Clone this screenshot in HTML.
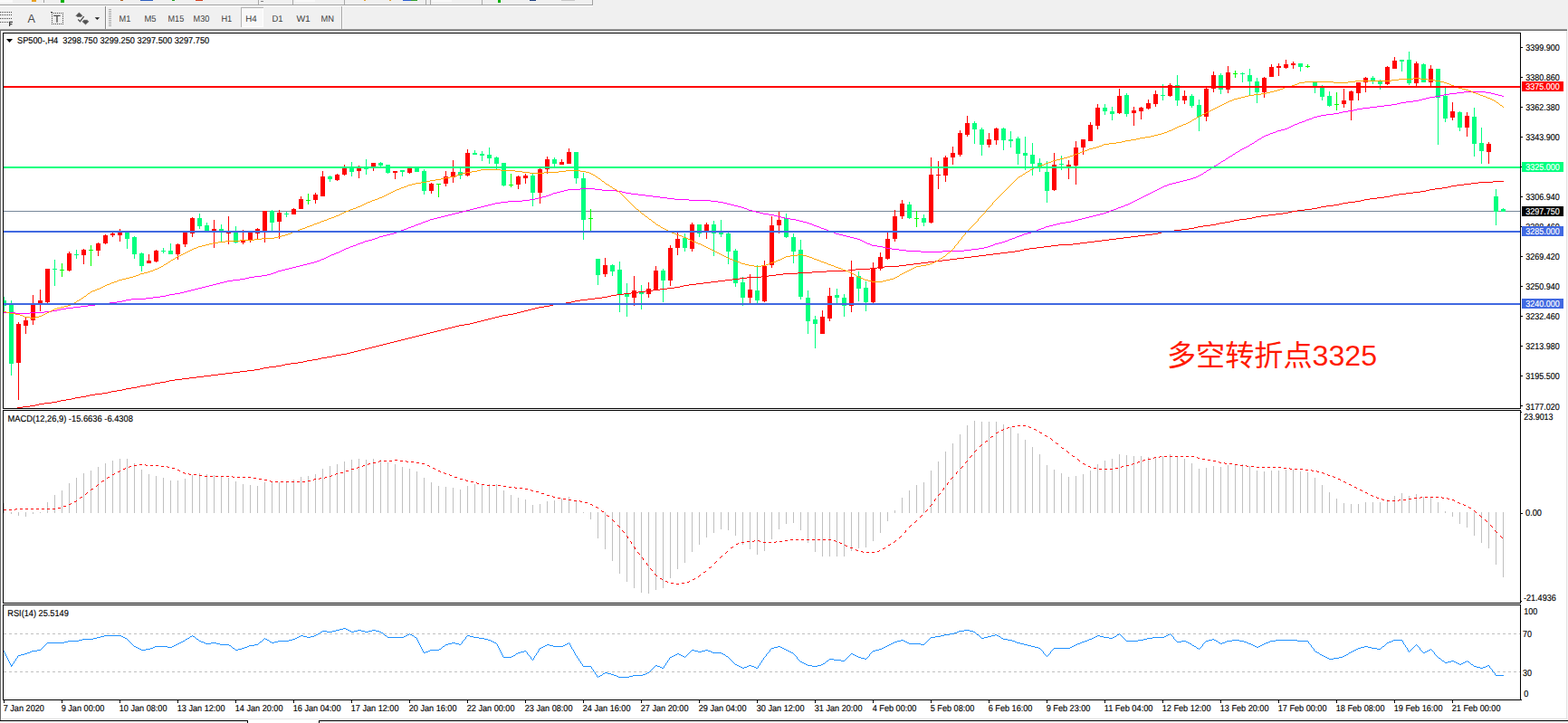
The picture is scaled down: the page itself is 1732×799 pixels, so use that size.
<!DOCTYPE html><html><head><meta charset="utf-8"><title>SP500-,H4</title>
<style>html,body{margin:0;padding:0;background:#f0f0f0;overflow:hidden}svg{display:block}text{font-family:"Liberation Sans",sans-serif}</style></head><body>
<svg width="1732" height="799" viewBox="0 0 1732 799" shape-rendering="crispEdges">
<rect x="0" y="0" width="1732" height="799" fill="#f0f0f0"/>
<g>
<rect x="0" y="5" width="655" height="1" fill="#a0a0a0"/>
<rect x="654" y="0" width="1" height="6" fill="#a0a0a0"/>
<rect x="48" y="0" width="1" height="3" fill="#a0a0a0"/>
<rect x="285" y="0" width="1" height="5" fill="#a8a8a8"/>
<rect x="323" y="0" width="1" height="5" fill="#a8a8a8"/>
<rect x="380" y="0" width="1" height="5" fill="#a8a8a8"/>
<rect x="470" y="0" width="1" height="5" fill="#a8a8a8"/>
<rect x="475" y="0" width="1" height="5" fill="#a8a8a8"/>
<rect x="532" y="0" width="1" height="5" fill="#a8a8a8"/>
<rect x="326" y="0" width="22" height="2" fill="#f8f8f8"/>
<rect x="477" y="0" width="22" height="2" fill="#f8f8f8"/>
<rect x="288" y="1" width="3" height="1" fill="#808080"/>
<rect x="402" y="0" width="2" height="1" fill="#e0a030"/>
<rect x="430" y="0" width="2" height="1" fill="#e0a030"/>
<rect x="445" y="0" width="9" height="1" fill="#3060d0"/>
<rect x="454" y="0" width="7" height="1" fill="#30a030"/>
<rect x="550" y="0" width="3" height="3" fill="#00b000"/>
<rect x="585" y="0" width="7" height="1" fill="#204080"/>
<rect x="620" y="0" width="15" height="1" fill="#c8c8c8"/>
<rect x="0" y="0" width="14" height="3" fill="#fafafa"/>
<rect x="35" y="0" width="5" height="2" fill="#e8a020"/>
<rect x="67" y="0" width="4" height="3" fill="#00b000"/>
<rect x="133" y="0" width="3" height="1" fill="#b06020"/>
<rect x="155" y="0" width="14" height="1" fill="#3060c0"/>
<rect x="190" y="0" width="3" height="1" fill="#20a020"/>
<rect x="216" y="0" width="8" height="1" fill="#d04020"/>
<rect x="0" y="6" width="655" height="1" fill="#ffffff"/>
<path d="M0 13.5H14" stroke="#484848" stroke-width="1" stroke-dasharray="1 1" fill="none"/>
<path d="M0 16.5H14" stroke="#484848" stroke-width="1" stroke-dasharray="1 1" fill="none"/>
<path d="M0 20.5H14" stroke="#484848" stroke-width="1" stroke-dasharray="1 1" fill="none"/>
<path d="M0 24.5H10" stroke="#484848" stroke-width="1" stroke-dasharray="1 1" fill="none"/>
<path d="M10.6 29v-4.6h3.4M10.6 26.6h2.8" stroke="#3c3c3c" stroke-width="1.2" fill="none" shape-rendering="auto"/>
<text x="30.4" y="25" font-size="12.6" fill="#484848" shape-rendering="auto" textLength="8.4" lengthAdjust="spacingAndGlyphs">A</text>
<path d="M57 14h1v1h-1zM57 26h1v1h-1zM59 14h1v1h-1zM59 26h1v1h-1zM57 16h1v1h-1zM69 16h1v1h-1zM61 14h1v1h-1zM61 26h1v1h-1zM57 18h1v1h-1zM69 18h1v1h-1zM63 14h1v1h-1zM63 26h1v1h-1zM57 20h1v1h-1zM69 20h1v1h-1zM65 14h1v1h-1zM65 26h1v1h-1zM57 22h1v1h-1zM69 22h1v1h-1zM67 14h1v1h-1zM67 26h1v1h-1zM57 24h1v1h-1zM69 24h1v1h-1zM69 14h1v1h-1zM69 26h1v1h-1z" fill="#484848"/>
<rect x="56" y="13" width="2" height="1" fill="#484848"/>
<path d="M59.2 17.4h7.4M63 17.4v7.4" stroke="#505050" stroke-width="1.4" fill="none" shape-rendering="auto"/>
<path d="M87.4 13.9l3.7 3.6h-1.3v1h-4.6v-1h-1.4z M94.5 27.1l-3.7-3.5h1.5v-1.3h4.3v1.3h1.5z" fill="#505050" stroke="#505050" stroke-width="0.5" stroke-linejoin="round" shape-rendering="auto"/>
<path d="M86.3 21.5l2.1 2.2l4.3-5.6" stroke="#505050" stroke-width="1.3" fill="none" shape-rendering="auto"/>
<path d="M104.7 19.2h5.4l-2.7 2.8z" fill="#1e1e1e" shape-rendering="auto"/>
<rect x="116" y="7" width="1" height="26" fill="#868686"/>
<rect x="117" y="7" width="1" height="25" fill="#fcfcfc"/>
<rect x="120" y="10" width="3" height="1" fill="#a8a8a8"/>
<rect x="120" y="12" width="3" height="1" fill="#a8a8a8"/>
<rect x="120" y="14" width="3" height="1" fill="#a8a8a8"/>
<rect x="120" y="16" width="3" height="1" fill="#a8a8a8"/>
<rect x="120" y="18" width="3" height="1" fill="#a8a8a8"/>
<rect x="120" y="20" width="3" height="1" fill="#a8a8a8"/>
<rect x="120" y="22" width="3" height="1" fill="#a8a8a8"/>
<rect x="120" y="24" width="3" height="1" fill="#a8a8a8"/>
<rect x="120" y="26" width="3" height="1" fill="#a8a8a8"/>
<rect x="120" y="28" width="3" height="1" fill="#a8a8a8"/>
<rect x="266" y="8" width="25" height="22" fill="#f8f8f8"/>
<rect x="266" y="8" width="25" height="1" fill="#b4b4b4"/><rect x="266" y="8" width="1" height="22" fill="#b4b4b4"/>
<rect x="290" y="9" width="1" height="21" fill="#fff"/><rect x="267" y="29" width="24" height="1" fill="#fff"/>
<text x="131.5" y="23.6" font-size="10" text-rendering="geometricPrecision" fill="#3c3c3c" textLength="12.8" lengthAdjust="spacingAndGlyphs" shape-rendering="auto">M1</text>
<text x="159.4" y="23.6" font-size="10" text-rendering="geometricPrecision" fill="#3c3c3c" textLength="13" lengthAdjust="spacingAndGlyphs" shape-rendering="auto">M5</text>
<text x="185.5" y="23.6" font-size="10" text-rendering="geometricPrecision" fill="#3c3c3c" textLength="17.7" lengthAdjust="spacingAndGlyphs" shape-rendering="auto">M15</text>
<text x="213.6" y="23.6" font-size="10" text-rendering="geometricPrecision" fill="#3c3c3c" textLength="17.7" lengthAdjust="spacingAndGlyphs" shape-rendering="auto">M30</text>
<text x="244.4" y="23.6" font-size="10" text-rendering="geometricPrecision" fill="#3c3c3c" textLength="11.8" lengthAdjust="spacingAndGlyphs" shape-rendering="auto">H1</text>
<text x="271.3" y="23.6" font-size="10" text-rendering="geometricPrecision" fill="#3c3c3c" textLength="12.4" lengthAdjust="spacingAndGlyphs" shape-rendering="auto">H4</text>
<text x="300.4" y="23.6" font-size="10" text-rendering="geometricPrecision" fill="#3c3c3c" textLength="12.1" lengthAdjust="spacingAndGlyphs" shape-rendering="auto">D1</text>
<text x="327.4" y="23.6" font-size="10" text-rendering="geometricPrecision" fill="#3c3c3c" textLength="15.4" lengthAdjust="spacingAndGlyphs" shape-rendering="auto">W1</text>
<text x="354.5" y="23.6" font-size="10" text-rendering="geometricPrecision" fill="#3c3c3c" textLength="14.5" lengthAdjust="spacingAndGlyphs" shape-rendering="auto">MN</text>
<rect x="377" y="7" width="1" height="25" fill="#a8a8a8"/>
<rect x="378" y="7" width="1" height="25" fill="#fcfcfc"/>
</g>
<rect x="1" y="34" width="1729" height="762" fill="#ffffff"/>
<rect x="0" y="32" width="1731" height="1" fill="#a0a0a0"/>
<rect x="0" y="33" width="1731" height="1" fill="#696969"/>
<rect x="0" y="34" width="1" height="762" fill="#696969"/>
<rect x="1730" y="34" width="1" height="762" fill="#e3e3e3"/>
<rect x="1731" y="32" width="1" height="765" fill="#f6f6f6"/>
<rect x="2" y="794" width="1728" height="1" fill="#e3e3e3"/>
<rect x="0" y="796" width="273" height="1" fill="#000"/>
<rect x="273" y="796" width="1" height="3" fill="#000"/>
<rect x="352" y="796" width="1" height="3" fill="#000"/>
<rect x="352" y="796" width="1380" height="1" fill="#000"/>
<rect x="0" y="797" width="273" height="2" fill="#f0f0f0"/>
<rect x="274" y="795" width="78" height="4" fill="#ffffff"/>
<rect x="353" y="797" width="1379" height="2" fill="#f0f0f0"/>
<rect x="3" y="36" width="1677" height="1" fill="#000"/>
<rect x="3" y="451" width="1677" height="1" fill="#000"/>
<rect x="3" y="36" width="1" height="416" fill="#000"/>
<rect x="1679" y="36" width="1" height="416" fill="#000"/>
<rect x="3" y="453" width="1677" height="1" fill="#000"/>
<rect x="3" y="666" width="1677" height="1" fill="#000"/>
<rect x="3" y="453" width="1" height="214" fill="#000"/>
<rect x="1679" y="453" width="1" height="214" fill="#000"/>
<rect x="3" y="668" width="1677" height="1" fill="#000"/>
<rect x="3" y="773" width="1677" height="1" fill="#000"/>
<rect x="3" y="668" width="1" height="106" fill="#000"/>
<rect x="1679" y="668" width="1" height="106" fill="#000"/>
<rect x="1679" y="773" width="2" height="1" fill="#000"/>
<defs><clipPath id="cm"><rect x="4" y="37" width="1675" height="414"/></clipPath><clipPath id="c2"><rect x="4" y="454" width="1675" height="212"/></clipPath><clipPath id="c3"><rect x="4" y="669" width="1675" height="104"/></clipPath></defs>
<g clip-path="url(#cm)">
<rect x="4" y="233" width="1675" height="1" fill="#778899"/>
<path fill="#ff0000" d="M20 356h1v86h-1zM28 350h1v19h-1zM36 326h1v33h-1zM44 320h1v24h-1zM52 297h1v38h-1zM76 278h1v22h-1zM92 275h1v17h-1zM108 268h1v15h-1zM116 259h1v11h-1zM124 257h1v5h-1zM132 253h1v14h-1zM164 281h1v10h-1zM172 276h1v14h-1zM196 269h1v18h-1zM204 257h1v16h-1zM212 240h1v22h-1zM236 243h1v31h-1zM252 239h1v31h-1zM268 254h1v16h-1zM276 257h1v11h-1zM284 252h1v12h-1zM292 233h1v35h-1zM308 232h1v32h-1zM324 230h1v7h-1zM332 217h1v14h-1zM348 213h1v12h-1zM356 189h1v28h-1zM372 192h1v8h-1zM380 182h1v12h-1zM396 183h1v14h-1zM412 180h1v9h-1zM436 189h1v9h-1zM452 186h1v6h-1zM476 202h1v12h-1zM492 189h1v17h-1zM500 177h1v25h-1zM516 165h1v30h-1zM572 194h1v15h-1zM580 192h1v11h-1zM596 186h1v39h-1zM604 173h1v19h-1zM620 176h1v6h-1zM628 164h1v17h-1zM668 285h1v21h-1zM700 305h1v33h-1zM716 312h1v17h-1zM724 294h1v27h-1zM740 271h1v45h-1zM748 257h1v25h-1zM764 246h1v32h-1zM780 246h1v18h-1zM828 303h1v32h-1zM844 288h1v46h-1zM852 239h1v57h-1zM860 234h1v24h-1zM908 343h1v26h-1zM916 318h1v37h-1zM940 288h1v57h-1zM964 290h1v45h-1zM972 279h1v20h-1zM980 257h1v30h-1zM988 232h1v35h-1zM996 221h1v21h-1zM1028 174h1v73h-1zM1036 178h1v31h-1zM1044 172h1v29h-1zM1052 162h1v20h-1zM1060 144h1v29h-1zM1068 128h1v23h-1zM1092 147h1v16h-1zM1100 141h1v19h-1zM1164 169h1v42h-1zM1180 177h1v21h-1zM1188 156h1v48h-1zM1196 154h1v17h-1zM1204 135h1v21h-1zM1212 115h1v28h-1zM1236 98h1v28h-1zM1252 118h1v21h-1zM1260 118h1v14h-1zM1268 110h1v11h-1zM1276 100h1v18h-1zM1292 92h1v15h-1zM1308 100h1v15h-1zM1332 97h1v37h-1zM1340 79h1v23h-1zM1356 73h1v30h-1zM1396 85h1v23h-1zM1404 71h1v14h-1zM1412 70h1v14h-1zM1420 66h1v10h-1zM1428 68h1v8h-1zM1484 98h1v21h-1zM1492 100h1v33h-1zM1500 91h1v20h-1zM1508 85h1v17h-1zM1532 73h1v21h-1zM1540 63h1v13h-1zM1564 68h1v27h-1zM1580 72h1v23h-1zM1604 113h1v20h-1zM1620 124h1v27h-1zM1644 157h1v24h-1zM18 358h5v43h-5zM26 354h5v6h-5zM34 336h5v18h-5zM42 332h5v4h-5zM50 297h5v37h-5zM74 280h5v19h-5zM90 276h5v6h-5zM106 269h5v8h-5zM114 260h5v9h-5zM122 258h5v2h-5zM130 256h5v4h-5zM162 288h5v3h-5zM170 277h5v12h-5zM194 270h5v11h-5zM202 257h5v13h-5zM210 241h5v17h-5zM234 253h5v2h-5zM250 257h5v1h-5zM266 266h5v2h-5zM274 257h5v8h-5zM282 253h5v5h-5zM290 233h5v22h-5zM306 235h5v10h-5zM322 231h5v6h-5zM330 220h5v11h-5zM346 215h5v6h-5zM354 195h5v22h-5zM370 193h5v6h-5zM378 186h5v7h-5zM394 186h5v3h-5zM410 180h5v4h-5zM434 189h5v2h-5zM450 186h5v5h-5zM474 203h5v8h-5zM490 195h5v8h-5zM498 190h5v6h-5zM514 169h5v25h-5zM570 195h5v9h-5zM578 194h5v3h-5zM594 187h5v26h-5zM602 176h5v11h-5zM618 179h5v3h-5zM626 168h5v13h-5zM666 293h5v10h-5zM698 321h5v8h-5zM714 319h5v6h-5zM722 299h5v22h-5zM738 274h5v36h-5zM746 264h5v10h-5zM762 248h5v27h-5zM778 248h5v9h-5zM826 320h5v9h-5zM842 294h5v39h-5zM850 249h5v44h-5zM858 243h5v6h-5zM906 350h5v19h-5zM914 327h5v25h-5zM938 306h5v32h-5zM962 296h5v38h-5zM970 284h5v13h-5zM978 264h5v22h-5zM986 239h5v25h-5zM994 225h5v14h-5zM1026 193h5v53h-5zM1034 193h5v1h-5zM1042 174h5v20h-5zM1050 169h5v5h-5zM1058 147h5v24h-5zM1066 136h5v13h-5zM1090 154h5v6h-5zM1098 142h5v13h-5zM1162 182h5v28h-5zM1178 182h5v2h-5zM1186 163h5v20h-5zM1194 154h5v9h-5zM1202 138h5v18h-5zM1210 119h5v20h-5zM1234 106h5v19h-5zM1250 122h5v3h-5zM1258 119h5v4h-5zM1266 114h5v6h-5zM1274 104h5v11h-5zM1290 94h5v12h-5zM1306 106h5v5h-5zM1330 98h5v31h-5zM1338 83h5v15h-5zM1354 80h5v19h-5zM1394 86h5v16h-5zM1402 74h5v11h-5zM1410 73h5v2h-5zM1418 71h5v4h-5zM1426 70h5v2h-5zM1482 111h5v4h-5zM1490 101h5v10h-5zM1498 91h5v12h-5zM1506 86h5v5h-5zM1530 74h5v19h-5zM1538 67h5v9h-5zM1562 70h5v22h-5zM1578 76h5v15h-5zM1602 123h5v7h-5zM1618 128h5v13h-5zM1642 159h5v9h-5z"/>
<path fill="#00ff7f" d="M4 328h1v18h-1zM12 332h1v83h-1zM60 287h1v29h-1zM84 276h1v10h-1zM140 256h1v19h-1zM148 261h1v25h-1zM156 279h1v21h-1zM180 274h1v6h-1zM188 269h1v12h-1zM220 236h1v17h-1zM228 246h1v9h-1zM244 248h1v19h-1zM260 250h1v19h-1zM300 232h1v23h-1zM316 234h1v6h-1zM364 194h1v7h-1zM388 179h1v16h-1zM404 176h1v17h-1zM420 179h1v5h-1zM428 182h1v10h-1zM444 188h1v7h-1zM460 186h1v4h-1zM468 187h1v28h-1zM508 186h1v12h-1zM524 166h1v5h-1zM532 167h1v11h-1zM540 163h1v18h-1zM548 173h1v14h-1zM556 180h1v26h-1zM588 192h1v36h-1zM612 174h1v10h-1zM636 168h1v35h-1zM644 191h1v74h-1zM660 286h1v29h-1zM676 292h1v13h-1zM684 289h1v56h-1zM692 313h1v37h-1zM708 315h1v27h-1zM732 297h1v37h-1zM756 258h1v20h-1zM772 248h1v14h-1zM788 244h1v39h-1zM796 243h1v19h-1zM804 257h1v35h-1zM812 275h1v42h-1zM820 306h1v32h-1zM836 293h1v42h-1zM868 236h1v27h-1zM876 258h1v33h-1zM884 265h1v66h-1zM892 321h1v48h-1zM900 349h1v36h-1zM924 319h1v16h-1zM932 325h1v25h-1zM948 300h1v33h-1zM956 311h1v33h-1zM1004 223h1v19h-1zM1020 237h1v13h-1zM1076 134h1v25h-1zM1084 141h1v31h-1zM1108 141h1v25h-1zM1116 145h1v18h-1zM1124 151h1v31h-1zM1132 151h1v37h-1zM1140 158h1v36h-1zM1148 175h1v15h-1zM1156 178h1v46h-1zM1172 172h1v16h-1zM1220 115h1v12h-1zM1228 118h1v15h-1zM1244 103h1v26h-1zM1284 93h1v18h-1zM1300 83h1v34h-1zM1316 104h1v15h-1zM1324 110h1v35h-1zM1348 81h1v23h-1zM1372 80h1v11h-1zM1380 76h1v29h-1zM1388 86h1v28h-1zM1436 70h1v9h-1zM1452 90h1v13h-1zM1460 94h1v17h-1zM1468 101h1v17h-1zM1516 84h1v9h-1zM1524 88h1v11h-1zM1548 66h1v13h-1zM1556 57h1v37h-1zM1572 70h1v21h-1zM1588 76h1v84h-1zM1596 97h1v38h-1zM1612 123h1v22h-1zM1628 119h1v54h-1zM1636 141h1v40h-1zM1652 209h1v40h-1zM1660 230h1v4h-1zM2 332h5v6h-5zM10 336h5v66h-5zM58 297h5v1h-5zM82 281h5v1h-5zM138 256h5v8h-5zM146 262h5v19h-5zM154 280h5v14h-5zM178 277h5v1h-5zM186 277h5v4h-5zM218 241h5v9h-5zM226 249h5v6h-5zM242 253h5v4h-5zM258 257h5v11h-5zM298 233h5v13h-5zM314 236h5v1h-5zM362 195h5v3h-5zM386 185h5v5h-5zM402 185h5v2h-5zM418 180h5v3h-5zM426 182h5v9h-5zM442 188h5v2h-5zM458 186h5v4h-5zM466 189h5v22h-5zM506 190h5v4h-5zM522 169h5v2h-5zM530 170h5v2h-5zM538 171h5v4h-5zM546 174h5v7h-5zM554 180h5v25h-5zM586 194h5v19h-5zM610 176h5v5h-5zM634 168h5v29h-5zM642 197h5v46h-5zM658 286h5v18h-5zM674 293h5v7h-5zM682 298h5v28h-5zM690 325h5v3h-5zM706 322h5v3h-5zM730 299h5v11h-5zM754 263h5v11h-5zM770 248h5v10h-5zM786 248h5v10h-5zM794 257h5v2h-5zM802 258h5v20h-5zM810 277h5v36h-5zM818 312h5v17h-5zM834 321h5v11h-5zM866 241h5v21h-5zM874 262h5v16h-5zM882 276h5v52h-5zM890 329h5v26h-5zM898 353h5v5h-5zM922 326h5v3h-5zM930 329h5v9h-5zM946 305h5v14h-5zM954 318h5v16h-5zM1002 226h5v15h-5zM1018 241h5v5h-5zM1074 136h5v7h-5zM1082 143h5v17h-5zM1106 142h5v13h-5zM1114 154h5v2h-5zM1122 153h5v17h-5zM1130 169h5v3h-5zM1138 171h5v10h-5zM1146 180h5v4h-5zM1154 190h5v21h-5zM1170 181h5v1h-5zM1218 119h5v4h-5zM1226 123h5v3h-5zM1242 105h5v21h-5zM1282 105h5v1h-5zM1298 94h5v17h-5zM1314 106h5v11h-5zM1322 116h5v13h-5zM1346 83h5v16h-5zM1370 81h5v1h-5zM1378 83h5v7h-5zM1386 90h5v12h-5zM1434 70h5v4h-5zM1450 90h5v6h-5zM1458 97h5v10h-5zM1466 106h5v11h-5zM1514 86h5v3h-5zM1522 90h5v3h-5zM1546 66h5v2h-5zM1554 66h5v26h-5zM1570 71h5v20h-5zM1586 76h5v32h-5zM1594 106h5v25h-5zM1610 124h5v17h-5zM1626 129h5v30h-5zM1634 158h5v9h-5zM1650 217h5v17h-5zM1658 231h5v3h-5z"/>
<path fill="#00ff00" d="M68 291h1v15h-1zM100 271h1v23h-1zM340 214h1v12h-1zM484 203h1v15h-1zM564 192h1v15h-1zM652 231h1v24h-1zM1012 233h1v18h-1zM1364 78h1v8h-1zM1444 71h1v4h-1zM1476 102h1v20h-1zM66 298h5v1h-5zM98 276h5v1h-5zM338 221h5v1h-5zM482 203h5v1h-5zM562 204h5v1h-5zM650 241h5v1h-5zM1010 241h5v1h-5zM1362 81h5v1h-5zM1442 73h5v1h-5zM1474 115h5v1h-5z"/>
<path d="M1649 200h12v1h-12zM1633 201h16v1h-16zM1625 202h8v1h-8zM1617 203h8v1h-8zM1609 204h8v1h-8zM1603 205h6v1h-6zM1599 206h4v1h-4zM1593 207h6v1h-6zM1585 208h8v1h-8zM1579 209h6v1h-6zM1575 210h4v1h-4zM1569 211h6v1h-6zM1561 212h8v1h-8zM1553 213h8v1h-8zM1545 214h8v1h-8zM1539 215h6v1h-6zM1535 216h4v1h-4zM1529 217h6v1h-6zM1521 218h8v1h-8zM1513 219h8v1h-8zM1507 220h6v1h-6zM1503 221h4v1h-4zM1497 222h6v1h-6zM1489 223h8v1h-8zM1483 224h6v1h-6zM1479 225h4v1h-4zM1473 226h6v1h-6zM1465 227h8v1h-8zM1459 228h6v1h-6zM1455 229h4v1h-4zM1449 230h6v1h-6zM1441 231h8v1h-8zM1433 232h8v1h-8zM1427 233h6v1h-6zM1423 234h4v1h-4zM1417 235h6v1h-6zM1409 236h8v1h-8zM1401 237h8v1h-8zM1393 238h8v1h-8zM1387 239h6v1h-6zM1383 240h4v1h-4zM1377 241h6v1h-6zM1369 242h8v1h-8zM1363 243h6v1h-6zM1359 244h4v1h-4zM1353 245h6v1h-6zM1347 246h6v1h-6zM1343 247h4v1h-4zM1337 248h6v1h-6zM1329 249h8v1h-8zM1323 250h6v1h-6zM1319 251h4v1h-4zM1313 252h6v1h-6zM1305 253h8v1h-8zM1297 254h8v1h-8zM1289 255h8v1h-8zM1283 256h6v1h-6zM1279 257h4v1h-4zM1273 258h6v1h-6zM1265 259h8v1h-8zM1257 260h8v1h-8zM1249 261h8v1h-8zM1241 262h8v1h-8zM1233 263h8v1h-8zM1225 264h8v1h-8zM1217 265h8v1h-8zM1209 266h8v1h-8zM1201 267h8v1h-8zM1193 268h8v1h-8zM1185 269h8v1h-8zM1169 270h16v1h-16zM1161 271h8v1h-8zM1153 272h8v1h-8zM1145 273h8v1h-8zM1137 274h8v1h-8zM1131 275h6v1h-6zM1127 276h4v1h-4zM1121 277h6v1h-6zM1113 278h8v1h-8zM1105 279h8v1h-8zM1097 280h8v1h-8zM1089 281h8v1h-8zM1081 282h8v1h-8zM1073 283h8v1h-8zM1065 284h8v1h-8zM1057 285h8v1h-8zM1049 286h8v1h-8zM1041 287h8v1h-8zM1033 288h8v1h-8zM1025 289h8v1h-8zM1017 290h8v1h-8zM1009 291h8v1h-8zM1001 292h8v1h-8zM993 293h8v1h-8zM977 294h16v1h-16zM969 295h8v1h-8zM961 296h8v1h-8zM945 297h16v1h-16zM937 298h8v1h-8zM913 299h24v1h-24zM897 300h16v1h-16zM881 301h16v1h-16zM865 302h16v1h-16zM857 303h8v1h-8zM849 304h8v1h-8zM841 305h8v1h-8zM825 306h16v1h-16zM817 307h8v1h-8zM809 308h8v1h-8zM801 309h8v1h-8zM793 310h8v1h-8zM785 311h8v1h-8zM777 312h8v1h-8zM769 313h8v1h-8zM761 314h8v1h-8zM755 315h6v1h-6zM751 316h4v1h-4zM745 317h6v1h-6zM737 318h8v1h-8zM729 319h8v1h-8zM721 320h8v1h-8zM713 321h8v1h-8zM705 322h8v1h-8zM697 323h8v1h-8zM689 324h8v1h-8zM681 325h8v1h-8zM675 326h6v1h-6zM671 327h4v1h-4zM665 328h6v1h-6zM657 329h8v1h-8zM649 330h8v1h-8zM641 331h8v1h-8zM635 332h6v1h-6zM631 333h4v1h-4zM625 334h6v1h-6zM617 335h8v1h-8zM611 336h6v1h-6zM607 337h4v1h-4zM601 338h6v1h-6zM595 339h6v1h-6zM591 340h4v1h-4zM587 341h4v1h-4zM583 342h4v1h-4zM579 343h4v1h-4zM575 344h4v1h-4zM571 345h4v1h-4zM567 346h4v1h-4zM561 347h6v1h-6zM555 348h6v1h-6zM551 349h4v1h-4zM547 350h4v1h-4zM543 351h4v1h-4zM539 352h4v1h-4zM535 353h4v1h-4zM531 354h4v1h-4zM527 355h4v1h-4zM523 356h4v1h-4zM519 357h4v1h-4zM513 358h6v1h-6zM507 359h6v1h-6zM503 360h4v1h-4zM499 361h4v1h-4zM495 362h4v1h-4zM491 363h4v1h-4zM487 364h4v1h-4zM483 365h4v1h-4zM479 366h4v1h-4zM475 367h4v1h-4zM471 368h4v1h-4zM467 369h4v1h-4zM463 370h4v1h-4zM459 371h4v1h-4zM455 372h4v1h-4zM451 373h4v1h-4zM447 374h4v1h-4zM443 375h4v1h-4zM439 376h4v1h-4zM435 377h4v1h-4zM431 378h4v1h-4zM427 379h4v1h-4zM423 380h4v1h-4zM419 381h4v1h-4zM415 382h4v1h-4zM411 383h4v1h-4zM407 384h4v1h-4zM403 385h4v1h-4zM399 386h4v1h-4zM395 387h4v1h-4zM391 388h4v1h-4zM387 389h4v1h-4zM383 390h4v1h-4zM377 391h6v1h-6zM371 392h6v1h-6zM367 393h4v1h-4zM361 394h6v1h-6zM355 395h6v1h-6zM351 396h4v1h-4zM345 397h6v1h-6zM339 398h6v1h-6zM335 399h4v1h-4zM329 400h6v1h-6zM321 401h8v1h-8zM315 402h6v1h-6zM311 403h4v1h-4zM305 404h6v1h-6zM297 405h8v1h-8zM291 406h6v1h-6zM287 407h4v1h-4zM281 408h6v1h-6zM273 409h8v1h-8zM265 410h8v1h-8zM257 411h8v1h-8zM249 412h8v1h-8zM241 413h8v1h-8zM233 414h8v1h-8zM225 415h8v1h-8zM217 416h8v1h-8zM209 417h8v1h-8zM201 418h8v1h-8zM193 419h8v1h-8zM187 420h6v1h-6zM183 421h4v1h-4zM177 422h6v1h-6zM171 423h6v1h-6zM167 424h4v1h-4zM161 425h6v1h-6zM155 426h6v1h-6zM151 427h4v1h-4zM145 428h6v1h-6zM139 429h6v1h-6zM135 430h4v1h-4zM129 431h6v1h-6zM123 432h6v1h-6zM119 433h4v1h-4zM113 434h6v1h-6zM105 435h8v1h-8zM99 436h6v1h-6zM95 437h4v1h-4zM89 438h6v1h-6zM83 439h6v1h-6zM79 440h4v1h-4zM73 441h6v1h-6zM67 442h6v1h-6zM63 443h4v1h-4zM57 444h6v1h-6zM49 445h8v1h-8zM43 446h6v1h-6zM39 447h4v1h-4zM33 448h6v1h-6zM25 449h8v1h-8zM19 450h6v1h-6zM15 451h4v1h-4zM9 452h6v1h-6zM4 453h5v1h-5z" fill="#ff0000"/>
<path d="M1617 101h24v1h-24zM1609 102h8v1h-8zM1641 102h6v1h-6zM1601 103h8v1h-8zM1647 103h4v1h-4zM1595 104h6v1h-6zM1651 104h4v1h-4zM1591 105h4v1h-4zM1655 105h4v1h-4zM1585 106h6v1h-6zM1659 106h2v1h-2zM1579 107h6v1h-6zM1575 108h4v1h-4zM1571 109h4v1h-4zM1567 110h4v1h-4zM1561 111h6v1h-6zM1553 112h8v1h-8zM1547 113h6v1h-6zM1543 114h4v1h-4zM1537 115h6v1h-6zM1529 116h8v1h-8zM1521 117h8v1h-8zM1513 118h8v1h-8zM1505 119h8v1h-8zM1499 120h6v1h-6zM1495 121h4v1h-4zM1489 122h6v1h-6zM1483 123h6v1h-6zM1479 124h4v1h-4zM1473 125h6v1h-6zM1465 126h8v1h-8zM1459 127h6v1h-6zM1455 128h4v1h-4zM1451 129h4v1h-4zM1449 130h2v1h-2zM1446 131h3v1h-3zM1443 132h3v1h-3zM1441 133h2v1h-2zM1438 134h3v1h-3zM1435 135h3v1h-3zM1433 136h2v1h-2zM1430 137h3v1h-3zM1428 138h2v1h-2zM1426 139h2v1h-2zM1424 140h2v1h-2zM1422 141h2v1h-2zM1419 142h3v1h-3zM1415 143h4v1h-4zM1411 144h4v1h-4zM1409 145h2v1h-2zM1406 146h3v1h-3zM1403 147h3v1h-3zM1401 148h2v1h-2zM1398 149h3v1h-3zM1396 150h2v1h-2zM1394 151h2v1h-2zM1393 152h1v1h-1zM1391 153h2v1h-2zM1389 154h2v1h-2zM1388 155h1v1h-1zM1386 156h2v1h-2zM1385 157h1v1h-1zM1383 158h2v1h-2zM1381 159h2v1h-2zM1380 160h1v1h-1zM1378 161h2v1h-2zM1376 162h2v1h-2zM1374 163h2v1h-2zM1372 164h2v1h-2zM1370 165h2v1h-2zM1369 166h1v1h-1zM1367 167h2v1h-2zM1365 168h2v1h-2zM1364 169h1v1h-1zM1362 170h2v1h-2zM1361 171h1v1h-1zM1359 172h2v1h-2zM1357 173h2v1h-2zM1356 174h1v1h-1zM1354 175h2v1h-2zM1353 176h1v1h-1zM1351 177h2v1h-2zM1349 178h2v1h-2zM1348 179h1v1h-1zM1346 180h2v1h-2zM1345 181h1v1h-1zM1343 182h2v1h-2zM1341 183h2v1h-2zM1340 184h1v1h-1zM1338 185h2v1h-2zM1337 186h1v1h-1zM1335 187h2v1h-2zM1333 188h2v1h-2zM1332 189h1v1h-1zM1330 190h2v1h-2zM1329 191h1v1h-1zM1327 192h2v1h-2zM1325 193h2v1h-2zM1323 194h2v1h-2zM1321 195h2v1h-2zM1318 196h3v1h-3zM1315 197h3v1h-3zM1311 198h4v1h-4zM1307 199h4v1h-4zM1303 200h4v1h-4zM1299 201h4v1h-4zM1295 202h4v1h-4zM1291 203h4v1h-4zM1289 204h2v1h-2zM1286 205h3v1h-3zM1284 206h2v1h-2zM1282 207h2v1h-2zM641 208h16v1h-16zM1280 208h2v1h-2zM627 209h14v1h-14zM657 209h8v1h-8zM1278 209h2v1h-2zM623 210h4v1h-4zM665 210h16v1h-16zM1276 210h2v1h-2zM619 211h4v1h-4zM681 211h6v1h-6zM1274 211h2v1h-2zM615 212h4v1h-4zM687 212h4v1h-4zM1272 212h2v1h-2zM611 213h4v1h-4zM691 213h6v1h-6zM1270 213h2v1h-2zM609 214h2v1h-2zM697 214h8v1h-8zM1268 214h2v1h-2zM606 215h3v1h-3zM705 215h8v1h-8zM1266 215h2v1h-2zM603 216h3v1h-3zM713 216h8v1h-8zM1264 216h2v1h-2zM599 217h4v1h-4zM721 217h8v1h-8zM1262 217h2v1h-2zM595 218h4v1h-4zM729 218h8v1h-8zM1260 218h2v1h-2zM591 219h4v1h-4zM737 219h8v1h-8zM1258 219h2v1h-2zM585 220h6v1h-6zM745 220h16v1h-16zM1256 220h2v1h-2zM577 221h8v1h-8zM761 221h24v1h-24zM1254 221h2v1h-2zM561 222h16v1h-16zM785 222h8v1h-8zM1252 222h2v1h-2zM553 223h8v1h-8zM793 223h6v1h-6zM1250 223h2v1h-2zM547 224h6v1h-6zM799 224h4v1h-4zM1248 224h2v1h-2zM543 225h4v1h-4zM803 225h4v1h-4zM1246 225h2v1h-2zM539 226h4v1h-4zM807 226h4v1h-4zM1243 226h3v1h-3zM535 227h4v1h-4zM811 227h4v1h-4zM1241 227h2v1h-2zM531 228h4v1h-4zM815 228h4v1h-4zM1238 228h3v1h-3zM527 229h4v1h-4zM819 229h3v1h-3zM1235 229h3v1h-3zM523 230h4v1h-4zM822 230h3v1h-3zM1233 230h2v1h-2zM519 231h4v1h-4zM825 231h2v1h-2zM1230 231h3v1h-3zM515 232h4v1h-4zM827 232h4v1h-4zM1227 232h3v1h-3zM511 233h4v1h-4zM831 233h4v1h-4zM1225 233h2v1h-2zM507 234h4v1h-4zM835 234h4v1h-4zM1222 234h3v1h-3zM503 235h4v1h-4zM839 235h4v1h-4zM1219 235h3v1h-3zM499 236h4v1h-4zM843 236h6v1h-6zM1215 236h4v1h-4zM495 237h4v1h-4zM849 237h6v1h-6zM1211 237h4v1h-4zM491 238h4v1h-4zM855 238h4v1h-4zM1207 238h4v1h-4zM487 239h4v1h-4zM859 239h4v1h-4zM1203 239h4v1h-4zM483 240h4v1h-4zM863 240h4v1h-4zM1199 240h4v1h-4zM479 241h4v1h-4zM867 241h6v1h-6zM1195 241h4v1h-4zM475 242h4v1h-4zM873 242h6v1h-6zM1191 242h4v1h-4zM473 243h2v1h-2zM879 243h4v1h-4zM1187 243h4v1h-4zM470 244h3v1h-3zM883 244h4v1h-4zM1183 244h4v1h-4zM467 245h3v1h-3zM887 245h4v1h-4zM1177 245h6v1h-6zM465 246h2v1h-2zM891 246h3v1h-3zM1171 246h6v1h-6zM462 247h3v1h-3zM894 247h3v1h-3zM1167 247h4v1h-4zM459 248h3v1h-3zM897 248h2v1h-2zM1163 248h4v1h-4zM457 249h2v1h-2zM899 249h3v1h-3zM1159 249h4v1h-4zM454 250h3v1h-3zM902 250h3v1h-3zM1155 250h4v1h-4zM451 251h3v1h-3zM905 251h2v1h-2zM1153 251h2v1h-2zM449 252h2v1h-2zM907 252h3v1h-3zM1150 252h3v1h-3zM446 253h3v1h-3zM910 253h3v1h-3zM1147 253h3v1h-3zM443 254h3v1h-3zM913 254h2v1h-2zM1145 254h2v1h-2zM441 255h2v1h-2zM915 255h3v1h-3zM1142 255h3v1h-3zM438 256h3v1h-3zM918 256h3v1h-3zM1139 256h3v1h-3zM435 257h3v1h-3zM921 257h2v1h-2zM1135 257h4v1h-4zM431 258h4v1h-4zM923 258h4v1h-4zM1131 258h4v1h-4zM427 259h4v1h-4zM927 259h4v1h-4zM1129 259h2v1h-2zM423 260h4v1h-4zM931 260h4v1h-4zM1126 260h3v1h-3zM419 261h4v1h-4zM935 261h4v1h-4zM1123 261h3v1h-3zM417 262h2v1h-2zM939 262h4v1h-4zM1121 262h2v1h-2zM414 263h3v1h-3zM943 263h4v1h-4zM1118 263h3v1h-3zM411 264h3v1h-3zM947 264h3v1h-3zM1115 264h3v1h-3zM407 265h4v1h-4zM950 265h2v1h-2zM1113 265h2v1h-2zM403 266h4v1h-4zM952 266h2v1h-2zM1110 266h3v1h-3zM401 267h2v1h-2zM954 267h2v1h-2zM1107 267h3v1h-3zM398 268h3v1h-3zM956 268h2v1h-2zM1103 268h4v1h-4zM395 269h3v1h-3zM958 269h3v1h-3zM1099 269h4v1h-4zM393 270h2v1h-2zM961 270h2v1h-2zM1097 270h2v1h-2zM390 271h3v1h-3zM963 271h6v1h-6zM1094 271h3v1h-3zM387 272h3v1h-3zM969 272h6v1h-6zM1091 272h3v1h-3zM385 273h2v1h-2zM975 273h4v1h-4zM1087 273h4v1h-4zM382 274h3v1h-3zM979 274h6v1h-6zM1081 274h6v1h-6zM380 275h2v1h-2zM985 275h8v1h-8zM1073 275h8v1h-8zM378 276h2v1h-2zM993 276h8v1h-8zM1065 276h8v1h-8zM376 277h2v1h-2zM1001 277h16v1h-16zM1041 277h24v1h-24zM374 278h2v1h-2zM1017 278h24v1h-24zM371 279h3v1h-3zM369 280h2v1h-2zM366 281h3v1h-3zM364 282h2v1h-2zM362 283h2v1h-2zM360 284h2v1h-2zM358 285h2v1h-2zM355 286h3v1h-3zM353 287h2v1h-2zM350 288h3v1h-3zM347 289h3v1h-3zM343 290h4v1h-4zM339 291h4v1h-4zM335 292h4v1h-4zM331 293h4v1h-4zM327 294h4v1h-4zM323 295h4v1h-4zM319 296h4v1h-4zM315 297h4v1h-4zM311 298h4v1h-4zM307 299h4v1h-4zM305 300h2v1h-2zM302 301h3v1h-3zM299 302h3v1h-3zM295 303h4v1h-4zM289 304h6v1h-6zM281 305h8v1h-8zM275 306h6v1h-6zM271 307h4v1h-4zM265 308h6v1h-6zM257 309h8v1h-8zM251 310h6v1h-6zM247 311h4v1h-4zM243 312h4v1h-4zM239 313h4v1h-4zM235 314h4v1h-4zM231 315h4v1h-4zM227 316h4v1h-4zM223 317h4v1h-4zM219 318h4v1h-4zM215 319h4v1h-4zM211 320h4v1h-4zM207 321h4v1h-4zM203 322h4v1h-4zM199 323h4v1h-4zM193 324h6v1h-6zM187 325h6v1h-6zM183 326h4v1h-4zM177 327h6v1h-6zM169 328h8v1h-8zM161 329h8v1h-8zM145 330h16v1h-16zM139 331h6v1h-6zM135 332h4v1h-4zM129 333h6v1h-6zM121 334h8v1h-8zM113 335h8v1h-8zM105 336h8v1h-8zM97 337h8v1h-8zM89 338h8v1h-8zM81 339h8v1h-8zM73 340h8v1h-8zM67 341h6v1h-6zM63 342h4v1h-4zM57 343h6v1h-6zM49 344h8v1h-8zM4 345h13v1h-13zM33 345h16v1h-16zM17 346h16v1h-16z" fill="#ff00ff"/>
<path d="M1561 86h8v1h-8zM1545 87h16v1h-16zM1569 87h8v1h-8zM1537 88h8v1h-8zM1577 88h8v1h-8zM1497 89h40v1h-40zM1585 89h6v1h-6zM1441 90h32v1h-32zM1489 90h8v1h-8zM1591 90h4v1h-4zM1435 91h6v1h-6zM1473 91h16v1h-16zM1595 91h3v1h-3zM1433 92h2v1h-2zM1598 92h3v1h-3zM1430 93h3v1h-3zM1601 93h2v1h-2zM1427 94h3v1h-3zM1603 94h3v1h-3zM1423 95h4v1h-4zM1606 95h3v1h-3zM1419 96h4v1h-4zM1609 96h2v1h-2zM1417 97h2v1h-2zM1611 97h4v1h-4zM1414 98h3v1h-3zM1615 98h4v1h-4zM1411 99h3v1h-3zM1619 99h3v1h-3zM1407 100h4v1h-4zM1622 100h3v1h-3zM1403 101h4v1h-4zM1625 101h2v1h-2zM1399 102h4v1h-4zM1627 102h3v1h-3zM1393 103h6v1h-6zM1630 103h3v1h-3zM1385 104h8v1h-8zM1633 104h2v1h-2zM1379 105h6v1h-6zM1635 105h3v1h-3zM1375 106h4v1h-4zM1638 106h3v1h-3zM1371 107h4v1h-4zM1641 107h2v1h-2zM1367 108h4v1h-4zM1643 108h3v1h-3zM1363 109h4v1h-4zM1646 109h2v1h-2zM1361 110h2v1h-2zM1648 110h2v1h-2zM1358 111h3v1h-3zM1650 111h2v1h-2zM1356 112h2v1h-2zM1652 112h1v1h-1zM1354 113h2v1h-2zM1653 113h2v1h-2zM1352 114h2v1h-2zM1655 114h1v1h-1zM1350 115h2v1h-2zM1656 115h1v1h-1zM1348 116h2v1h-2zM1657 116h2v1h-2zM1346 117h2v1h-2zM1659 117h1v1h-1zM1344 118h2v1h-2zM1660 118h1v1h-1zM1342 119h2v1h-2zM1340 120h2v1h-2zM1338 121h2v1h-2zM1336 122h2v1h-2zM1334 123h2v1h-2zM1332 124h2v1h-2zM1330 125h2v1h-2zM1328 126h2v1h-2zM1326 127h2v1h-2zM1324 128h2v1h-2zM1322 129h2v1h-2zM1321 130h1v1h-1zM1319 131h2v1h-2zM1317 132h2v1h-2zM1316 133h1v1h-1zM1314 134h2v1h-2zM1312 135h2v1h-2zM1310 136h2v1h-2zM1307 137h3v1h-3zM1305 138h2v1h-2zM1302 139h3v1h-3zM1300 140h2v1h-2zM1298 141h2v1h-2zM1296 142h2v1h-2zM1294 143h2v1h-2zM1291 144h3v1h-3zM1289 145h2v1h-2zM1286 146h3v1h-3zM1283 147h3v1h-3zM1279 148h4v1h-4zM1275 149h4v1h-4zM1271 150h4v1h-4zM1265 151h6v1h-6zM1259 152h6v1h-6zM1255 153h4v1h-4zM1249 154h6v1h-6zM1243 155h6v1h-6zM1239 156h4v1h-4zM1233 157h6v1h-6zM1225 158h8v1h-8zM1219 159h6v1h-6zM1217 160h2v1h-2zM1214 161h3v1h-3zM1211 162h3v1h-3zM1207 163h4v1h-4zM1203 164h4v1h-4zM1201 165h2v1h-2zM1198 166h3v1h-3zM1195 167h3v1h-3zM1193 168h2v1h-2zM1190 169h3v1h-3zM1187 170h3v1h-3zM1185 171h2v1h-2zM1182 172h3v1h-3zM1179 173h3v1h-3zM1175 174h4v1h-4zM1171 175h4v1h-4zM1167 176h4v1h-4zM1163 177h4v1h-4zM1161 178h2v1h-2zM1158 179h3v1h-3zM1155 180h3v1h-3zM1153 181h2v1h-2zM1150 182h3v1h-3zM1147 183h3v1h-3zM1145 184h2v1h-2zM1142 185h3v1h-3zM1140 186h2v1h-2zM531 187h22v1h-22zM1138 187h2v1h-2zM527 188h4v1h-4zM553 188h16v1h-16zM625 188h16v1h-16zM1137 188h1v1h-1zM521 189h6v1h-6zM569 189h8v1h-8zM617 189h8v1h-8zM641 189h6v1h-6zM1135 189h2v1h-2zM515 190h6v1h-6zM577 190h8v1h-8zM601 190h16v1h-16zM647 190h4v1h-4zM1133 190h2v1h-2zM511 191h4v1h-4zM585 191h16v1h-16zM651 191h2v1h-2zM1132 191h1v1h-1zM507 192h4v1h-4zM653 192h2v1h-2zM1130 192h2v1h-2zM505 193h2v1h-2zM655 193h2v1h-2zM1129 193h1v1h-1zM502 194h3v1h-3zM657 194h1v1h-1zM1127 194h2v1h-2zM497 195h5v1h-5zM658 195h2v1h-2zM1125 195h2v1h-2zM491 196h6v1h-6zM660 196h1v1h-1zM1124 196h1v1h-1zM487 197h4v1h-4zM661 197h2v1h-2zM1123 197h1v1h-1zM481 198h6v1h-6zM663 198h1v1h-1zM1122 198h1v1h-1zM475 199h6v1h-6zM664 199h1v1h-1zM1121 199h1v1h-1zM471 200h4v1h-4zM665 200h2v1h-2zM1120 200h1v1h-1zM465 201h6v1h-6zM667 201h1v1h-1zM1119 201h1v1h-1zM459 202h6v1h-6zM668 202h1v1h-1zM1118 202h1v1h-1zM455 203h4v1h-4zM669 203h2v1h-2zM1117 203h1v1h-1zM451 204h4v1h-4zM671 204h2v1h-2zM1116 204h1v1h-1zM449 205h2v1h-2zM673 205h1v1h-1zM1115 205h1v1h-1zM446 206h3v1h-3zM674 206h2v1h-2zM1114 206h1v1h-1zM443 207h3v1h-3zM676 207h1v1h-1zM1113 207h1v1h-1zM441 208h2v1h-2zM677 208h2v1h-2zM1112 208h1v1h-1zM438 209h3v1h-3zM679 209h2v1h-2zM1111 209h1v1h-1zM436 210h2v1h-2zM681 210h1v1h-1zM1110 210h1v1h-1zM434 211h2v1h-2zM682 211h2v1h-2zM1109 211h1v1h-1zM432 212h2v1h-2zM684 212h1v1h-1zM1108 212h1v1h-1zM430 213h2v1h-2zM685 213h1v1h-1zM1107 213h1v1h-1zM428 214h2v1h-2zM686 214h1v1h-1zM1106 214h1v1h-1zM426 215h2v1h-2zM687 215h1v1h-1zM1105 215h1v1h-1zM424 216h2v1h-2zM688 216h1v1h-1zM1104 216h1v1h-1zM422 217h2v1h-2zM689 217h1v1h-1zM1103 217h1v1h-1zM419 218h3v1h-3zM690 218h1v1h-1zM1102 218h1v1h-1zM417 219h2v1h-2zM691 219h1v1h-1zM1101 219h1v1h-1zM414 220h3v1h-3zM692 220h1v1h-1zM1100 220h1v1h-1zM411 221h3v1h-3zM693 221h1v1h-1zM1099 221h1v1h-1zM409 222h2v1h-2zM694 222h1v1h-1zM1098 222h1v1h-1zM406 223h3v1h-3zM695 223h1v1h-1zM1097 223h1v1h-1zM404 224h2v1h-2zM696 224h1v1h-1zM1096 224h1v2h-1zM402 225h2v1h-2zM697 225h1v1h-1zM400 226h2v1h-2zM698 226h1v1h-1zM1095 226h1v1h-1zM398 227h2v1h-2zM699 227h1v1h-1zM1094 227h1v1h-1zM395 228h3v1h-3zM700 228h1v1h-1zM1093 228h1v1h-1zM393 229h2v1h-2zM701 229h1v1h-1zM1092 229h1v1h-1zM390 230h3v1h-3zM702 230h1v1h-1zM1091 230h1v1h-1zM387 231h3v1h-3zM703 231h2v1h-2zM1090 231h1v1h-1zM385 232h2v1h-2zM705 232h1v1h-1zM1089 232h1v1h-1zM382 233h3v1h-3zM706 233h1v1h-1zM1088 233h1v2h-1zM380 234h2v1h-2zM707 234h1v1h-1zM378 235h2v1h-2zM708 235h1v1h-1zM1087 235h1v1h-1zM376 236h2v1h-2zM709 236h2v1h-2zM1086 236h1v1h-1zM374 237h2v1h-2zM711 237h1v1h-1zM1085 237h1v1h-1zM371 238h3v1h-3zM712 238h1v1h-1zM1084 238h1v1h-1zM369 239h2v1h-2zM713 239h2v1h-2zM1083 239h1v1h-1zM366 240h3v1h-3zM715 240h1v1h-1zM1082 240h1v1h-1zM363 241h3v1h-3zM716 241h1v1h-1zM1081 241h1v1h-1zM361 242h2v1h-2zM717 242h2v1h-2zM1080 242h1v2h-1zM358 243h3v1h-3zM719 243h1v1h-1zM355 244h3v1h-3zM720 244h1v1h-1zM1079 244h1v1h-1zM353 245h2v1h-2zM721 245h2v1h-2zM1078 245h1v1h-1zM350 246h3v1h-3zM723 246h1v1h-1zM1077 246h1v1h-1zM347 247h3v1h-3zM724 247h1v1h-1zM1076 247h1v1h-1zM345 248h2v1h-2zM725 248h2v1h-2zM1075 248h1v1h-1zM342 249h3v1h-3zM727 249h2v1h-2zM1074 249h1v1h-1zM339 250h3v1h-3zM729 250h1v1h-1zM1073 250h1v1h-1zM337 251h2v1h-2zM730 251h2v1h-2zM1072 251h1v1h-1zM334 252h3v1h-3zM732 252h2v1h-2zM1071 252h1v1h-1zM331 253h3v1h-3zM734 253h2v1h-2zM1070 253h1v1h-1zM329 254h2v1h-2zM736 254h2v1h-2zM1069 254h1v1h-1zM326 255h3v1h-3zM738 255h2v1h-2zM1068 255h1v1h-1zM323 256h3v1h-3zM740 256h2v1h-2zM1067 256h1v1h-1zM321 257h2v1h-2zM742 257h3v1h-3zM1066 257h1v2h-1zM318 258h3v1h-3zM745 258h2v1h-2zM315 259h3v1h-3zM747 259h3v1h-3zM1065 259h1v1h-1zM311 260h4v1h-4zM750 260h3v1h-3zM1064 260h1v1h-1zM307 261h4v1h-4zM753 261h2v1h-2zM1063 261h1v1h-1zM303 262h4v1h-4zM755 262h3v1h-3zM1062 262h1v2h-1zM289 263h14v1h-14zM758 263h2v1h-2zM281 264h8v1h-8zM760 264h2v1h-2zM1061 264h1v1h-1zM265 265h16v1h-16zM762 265h2v1h-2zM1060 265h1v1h-1zM249 266h16v1h-16zM764 266h2v1h-2zM1059 266h1v1h-1zM241 267h8v1h-8zM766 267h3v1h-3zM1058 267h1v2h-1zM235 268h6v1h-6zM769 268h2v1h-2zM231 269h4v1h-4zM771 269h3v1h-3zM1057 269h1v1h-1zM227 270h4v1h-4zM774 270h2v1h-2zM1056 270h1v1h-1zM223 271h4v1h-4zM776 271h2v1h-2zM1055 271h1v1h-1zM219 272h4v1h-4zM778 272h2v1h-2zM1054 272h1v2h-1zM217 273h2v1h-2zM780 273h2v1h-2zM214 274h3v1h-3zM782 274h2v1h-2zM1053 274h1v1h-1zM212 275h2v1h-2zM784 275h2v1h-2zM1052 275h1v1h-1zM210 276h2v1h-2zM786 276h2v1h-2zM1051 276h1v1h-1zM208 277h2v1h-2zM788 277h2v1h-2zM1050 277h1v1h-1zM206 278h2v1h-2zM790 278h2v1h-2zM1049 278h1v1h-1zM204 279h2v1h-2zM792 279h2v1h-2zM1047 279h2v1h-2zM202 280h2v1h-2zM794 280h2v1h-2zM1046 280h1v1h-1zM200 281h2v1h-2zM796 281h2v1h-2zM881 281h6v1h-6zM1045 281h1v1h-1zM198 282h2v1h-2zM798 282h2v1h-2zM873 282h8v1h-8zM887 282h4v1h-4zM1044 282h1v1h-1zM196 283h2v1h-2zM800 283h2v1h-2zM868 283h5v1h-5zM891 283h3v1h-3zM1042 283h2v1h-2zM194 284h2v1h-2zM802 284h2v1h-2zM866 284h2v1h-2zM894 284h3v1h-3zM1041 284h1v1h-1zM193 285h1v1h-1zM804 285h2v1h-2zM864 285h2v1h-2zM897 285h2v1h-2zM1039 285h2v1h-2zM191 286h2v1h-2zM806 286h3v1h-3zM862 286h2v1h-2zM899 286h3v1h-3zM1037 286h2v1h-2zM189 287h2v1h-2zM809 287h2v1h-2zM859 287h3v1h-3zM902 287h3v1h-3zM1036 287h1v1h-1zM188 288h1v1h-1zM811 288h3v1h-3zM857 288h2v1h-2zM905 288h2v1h-2zM1034 288h2v1h-2zM186 289h2v1h-2zM814 289h3v1h-3zM854 289h3v1h-3zM907 289h3v1h-3zM1032 289h2v1h-2zM185 290h1v1h-1zM817 290h2v1h-2zM851 290h3v1h-3zM910 290h3v1h-3zM1030 290h2v1h-2zM183 291h2v1h-2zM819 291h4v1h-4zM849 291h2v1h-2zM913 291h2v1h-2zM1027 291h3v1h-3zM181 292h2v1h-2zM823 292h4v1h-4zM846 292h3v1h-3zM915 292h3v1h-3zM1023 292h4v1h-4zM180 293h1v1h-1zM827 293h6v1h-6zM841 293h5v1h-5zM918 293h3v1h-3zM1017 293h6v1h-6zM178 294h2v1h-2zM833 294h8v1h-8zM921 294h2v1h-2zM1012 294h5v1h-5zM176 295h2v1h-2zM923 295h3v1h-3zM1010 295h2v1h-2zM174 296h2v1h-2zM926 296h3v1h-3zM1008 296h2v1h-2zM171 297h3v1h-3zM929 297h2v1h-2zM1006 297h2v1h-2zM169 298h2v1h-2zM931 298h3v1h-3zM1004 298h2v1h-2zM166 299h3v1h-3zM934 299h3v1h-3zM1002 299h2v1h-2zM163 300h3v1h-3zM937 300h2v1h-2zM1000 300h2v1h-2zM159 301h4v1h-4zM939 301h2v1h-2zM998 301h2v1h-2zM155 302h4v1h-4zM941 302h2v1h-2zM996 302h2v1h-2zM153 303h2v1h-2zM943 303h2v1h-2zM994 303h2v1h-2zM150 304h3v1h-3zM945 304h1v1h-1zM993 304h1v1h-1zM147 305h3v1h-3zM946 305h2v1h-2zM991 305h2v1h-2zM143 306h4v1h-4zM948 306h2v1h-2zM989 306h2v1h-2zM139 307h4v1h-4zM950 307h3v1h-3zM987 307h2v1h-2zM135 308h4v1h-4zM953 308h2v1h-2zM983 308h4v1h-4zM131 309h4v1h-4zM955 309h4v1h-4zM979 309h4v1h-4zM129 310h2v1h-2zM959 310h4v1h-4zM975 310h4v1h-4zM126 311h3v1h-3zM963 311h12v1h-12zM123 312h3v1h-3zM121 313h2v1h-2zM118 314h3v1h-3zM116 315h2v1h-2zM114 316h2v1h-2zM112 317h2v1h-2zM110 318h2v1h-2zM107 319h3v1h-3zM105 320h2v1h-2zM102 321h3v1h-3zM100 322h2v1h-2zM99 323h1v1h-1zM97 324h2v1h-2zM96 325h1v1h-1zM95 326h1v1h-1zM93 327h2v1h-2zM92 328h1v1h-1zM90 329h2v1h-2zM89 330h1v1h-1zM87 331h2v1h-2zM85 332h2v1h-2zM84 333h1v1h-1zM82 334h2v1h-2zM80 335h2v1h-2zM78 336h2v1h-2zM75 337h3v1h-3zM71 338h4v1h-4zM67 339h4v1h-4zM63 340h4v1h-4zM60 341h3v1h-3zM58 342h2v1h-2zM56 343h2v1h-2zM4 344h3v1h-3zM54 344h2v1h-2zM7 345h4v1h-4zM52 345h2v1h-2zM11 346h6v1h-6zM50 346h2v1h-2zM17 347h5v1h-5zM48 347h2v1h-2zM22 348h3v1h-3zM46 348h2v1h-2zM25 349h2v1h-2zM43 349h3v1h-3zM27 350h6v1h-6zM39 350h4v1h-4zM33 351h6v1h-6z" fill="#ffa500"/>
<rect x="4" y="95" width="1675" height="2" fill="#ff0000"/>
<rect x="4" y="184" width="1675" height="2" fill="#00ff7f"/>
<rect x="4" y="255" width="1675" height="2" fill="#4169e1"/>
<rect x="4" y="335" width="1675" height="2" fill="#4169e1"/>
</g>
<text x="1289" y="404" font-size="32" fill="#ff1a00" textLength="232" lengthAdjust="spacingAndGlyphs" shape-rendering="auto" style="font-family:'Liberation Sans','Noto Sans CJK SC',sans-serif">多空转折点3325</text>
<g clip-path="url(#c2)">
<path fill="#c0c0c0" d="M4 556h1v11h-1zM12 566h1v2h-1zM20 566h1v4h-1zM28 566h1v5h-1zM36 566h1v2h-1zM44 566h1v1h-1zM52 555h1v12h-1zM60 547h1v20h-1zM68 542h1v25h-1zM76 534h1v33h-1zM84 528h1v39h-1zM92 523h1v44h-1zM100 520h1v47h-1zM108 516h1v51h-1zM116 512h1v55h-1zM124 509h1v58h-1zM132 507h1v60h-1zM140 507h1v60h-1zM148 512h1v55h-1zM156 519h1v48h-1zM164 524h1v43h-1zM172 526h1v41h-1zM180 528h1v39h-1zM188 531h1v36h-1zM196 531h1v36h-1zM204 529h1v38h-1zM212 525h1v42h-1zM220 523h1v44h-1zM228 524h1v43h-1zM236 525h1v42h-1zM244 527h1v40h-1zM252 528h1v39h-1zM260 532h1v35h-1zM268 535h1v32h-1zM276 536h1v31h-1zM284 537h1v30h-1zM292 533h1v34h-1zM300 533h1v34h-1zM308 533h1v34h-1zM316 532h1v35h-1zM324 530h1v37h-1zM332 527h1v40h-1zM340 526h1v41h-1zM348 524h1v43h-1zM356 518h1v49h-1zM364 515h1v52h-1zM372 513h1v54h-1zM380 510h1v57h-1zM388 508h1v59h-1zM396 507h1v60h-1zM404 508h1v59h-1zM412 507h1v60h-1zM420 508h1v59h-1zM428 511h1v56h-1zM436 513h1v54h-1zM444 516h1v51h-1zM452 518h1v49h-1zM460 521h1v46h-1zM468 528h1v39h-1zM476 533h1v34h-1zM484 537h1v30h-1zM492 538h1v29h-1zM500 539h1v28h-1zM508 541h1v26h-1zM516 537h1v30h-1zM524 535h1v32h-1zM532 535h1v32h-1zM540 535h1v32h-1zM548 535h1v32h-1zM556 542h1v25h-1zM564 547h1v20h-1zM572 550h1v17h-1zM580 552h1v15h-1zM588 558h1v9h-1zM596 557h1v10h-1zM604 554h1v13h-1zM612 553h1v14h-1zM620 551h1v16h-1zM628 549h1v18h-1zM636 553h1v14h-1zM644 566h1v1h-1zM652 566h1v8h-1zM660 566h1v29h-1zM668 566h1v41h-1zM676 566h1v54h-1zM684 566h1v68h-1zM692 566h1v77h-1zM700 566h1v84h-1zM708 566h1v89h-1zM716 566h1v90h-1zM724 566h1v86h-1zM732 566h1v84h-1zM740 566h1v73h-1zM748 566h1v63h-1zM756 566h1v56h-1zM764 566h1v44h-1zM772 566h1v36h-1zM780 566h1v28h-1zM788 566h1v23h-1zM796 566h1v19h-1zM804 566h1v20h-1zM812 566h1v26h-1zM820 566h1v36h-1zM828 566h1v41h-1zM836 566h1v47h-1zM844 566h1v43h-1zM852 566h1v30h-1zM860 566h1v19h-1zM868 566h1v13h-1zM876 566h1v12h-1zM884 566h1v20h-1zM892 566h1v34h-1zM900 566h1v44h-1zM908 566h1v49h-1zM916 566h1v49h-1zM924 566h1v49h-1zM932 566h1v49h-1zM940 566h1v43h-1zM948 566h1v40h-1zM956 566h1v39h-1zM964 566h1v32h-1zM972 566h1v23h-1zM980 566h1v10h-1zM988 564h1v3h-1zM996 550h1v17h-1zM1004 542h1v25h-1zM1012 536h1v31h-1zM1020 533h1v34h-1zM1028 520h1v47h-1zM1036 510h1v57h-1zM1044 499h1v68h-1zM1052 490h1v77h-1zM1060 480h1v87h-1zM1068 470h1v97h-1zM1076 465h1v102h-1zM1084 466h1v101h-1zM1092 466h1v101h-1zM1100 466h1v101h-1zM1108 469h1v98h-1zM1116 472h1v95h-1zM1124 479h1v88h-1zM1132 486h1v81h-1zM1140 494h1v73h-1zM1148 502h1v65h-1zM1156 514h1v53h-1zM1164 519h1v48h-1zM1172 523h1v44h-1zM1180 527h1v40h-1zM1188 526h1v41h-1zM1196 524h1v43h-1zM1204 520h1v47h-1zM1212 513h1v54h-1zM1220 509h1v58h-1zM1228 507h1v60h-1zM1236 502h1v65h-1zM1244 503h1v64h-1zM1252 504h1v63h-1zM1260 504h1v63h-1zM1268 505h1v62h-1zM1276 505h1v62h-1zM1284 504h1v63h-1zM1292 502h1v65h-1zM1300 505h1v62h-1zM1308 507h1v60h-1zM1316 512h1v55h-1zM1324 518h1v49h-1zM1332 517h1v50h-1zM1340 515h1v52h-1zM1348 516h1v51h-1zM1356 514h1v53h-1zM1364 513h1v54h-1zM1372 513h1v54h-1zM1380 515h1v52h-1zM1388 520h1v47h-1zM1396 521h1v46h-1zM1404 520h1v47h-1zM1412 520h1v47h-1zM1420 519h1v48h-1zM1428 519h1v48h-1zM1436 521h1v46h-1zM1444 522h1v45h-1zM1452 528h1v39h-1zM1460 536h1v31h-1zM1468 544h1v23h-1zM1476 551h1v16h-1zM1484 556h1v11h-1zM1492 557h1v10h-1zM1500 557h1v10h-1zM1508 555h1v12h-1zM1516 555h1v12h-1zM1524 555h1v12h-1zM1532 552h1v15h-1zM1540 548h1v19h-1zM1548 545h1v22h-1zM1556 548h1v19h-1zM1564 546h1v21h-1zM1572 549h1v18h-1zM1580 549h1v18h-1zM1588 555h1v12h-1zM1596 565h1v2h-1zM1604 566h1v5h-1zM1612 566h1v13h-1zM1620 566h1v17h-1zM1628 566h1v26h-1zM1636 566h1v34h-1zM1644 566h1v40h-1zM1652 566h1v58h-1zM1660 566h1v72h-1z"/>
<path d="M1124 470h3v1h-3zM1130 470h3v1h-3zM1118 471h3v1h-3zM1136 471h1v1h-1zM1113 472h2v1h-2zM1137 472h2v1h-2zM1112 473h1v1h-1zM1108 474h1v1h-1zM1142 474h2v1h-2zM1106 475h2v1h-2zM1144 475h1v1h-1zM1102 477h1v1h-1zM1148 477h1v1h-1zM1100 478h2v1h-2zM1149 478h2v1h-2zM1154 481h2v1h-2zM1095 482h2v1h-2zM1156 482h1v1h-1zM1094 483h1v1h-1zM1160 484h1v1h-1zM1161 485h1v1h-1zM1162 486h1v1h-1zM1089 487h2v1h-2zM1088 488h1v1h-1zM1166 489h1v1h-1zM1167 490h2v1h-2zM1084 491h1v1h-1zM1083 492h1v1h-1zM1082 493h1v1h-1zM1172 494h1v1h-1zM1173 495h2v1h-2zM1078 497h1v1h-1zM1077 498h1v1h-1zM1178 498h1v1h-1zM1076 499h1v1h-1zM1179 499h1v1h-1zM1180 500h1v1h-1zM1073 503h1v1h-1zM1184 503h1v1h-1zM1072 504h1v1h-1zM1185 504h2v1h-2zM1281 504h2v1h-2zM1286 504h3v1h-3zM1292 504h3v1h-3zM1298 504h3v1h-3zM1304 504h3v1h-3zM1310 504h3v1h-3zM1316 504h3v1h-3zM1071 505h1v1h-1zM1275 505h2v1h-2zM1280 505h1v1h-1zM1322 505h1v1h-1zM1274 506h1v1h-1zM1323 506h2v1h-2zM1190 507h1v1h-1zM1268 507h3v1h-3zM1328 507h3v1h-3zM436 508h3v1h-3zM1191 508h1v1h-1zM1263 508h2v1h-2zM1334 508h3v1h-3zM419 509h2v1h-2zM424 509h3v1h-3zM430 509h3v1h-3zM442 509h3v1h-3zM448 509h1v1h-1zM1068 509h1v1h-1zM1192 509h1v1h-1zM1262 509h1v1h-1zM1340 509h3v1h-3zM418 510h1v1h-1zM449 510h2v1h-2zM454 510h3v1h-3zM1067 510h1v1h-1zM1257 510h2v1h-2zM1346 510h1v1h-1zM412 511h3v1h-3zM460 511h3v1h-3zM1066 511h1v1h-1zM1256 511h1v1h-1zM1347 511h2v1h-2zM1352 511h1v1h-1zM407 512h2v1h-2zM466 512h3v1h-3zM1196 512h2v1h-2zM1251 512h2v1h-2zM1353 512h2v1h-2zM1358 512h3v1h-3zM154 513h3v1h-3zM160 513h1v1h-1zM406 513h1v1h-1zM1198 513h1v1h-1zM1250 513h1v1h-1zM1364 513h3v1h-3zM148 514h3v1h-3zM161 514h2v1h-2zM166 514h3v1h-3zM172 514h3v1h-3zM401 514h2v1h-2zM472 514h2v1h-2zM1244 514h3v1h-3zM1370 514h3v1h-3zM1376 514h1v1h-1zM143 515h2v1h-2zM178 515h3v1h-3zM184 515h1v1h-1zM400 515h1v1h-1zM474 515h1v1h-1zM1063 515h1v1h-1zM1202 515h2v1h-2zM1239 515h2v1h-2zM1377 515h2v1h-2zM1382 515h3v1h-3zM142 516h1v1h-1zM185 516h2v1h-2zM395 516h2v1h-2zM1062 516h1v1h-1zM1204 516h1v1h-1zM1238 516h1v1h-1zM1388 516h3v1h-3zM1394 516h3v1h-3zM1400 516h3v1h-3zM1406 516h3v1h-3zM1412 516h3v1h-3zM138 517h1v1h-1zM190 517h3v1h-3zM394 517h1v1h-1zM478 517h2v1h-2zM1061 517h1v1h-1zM1208 517h3v1h-3zM1232 517h3v1h-3zM1418 517h3v1h-3zM1424 517h1v1h-1zM136 518h2v1h-2zM388 518h3v1h-3zM480 518h1v1h-1zM1214 518h3v1h-3zM1220 518h3v1h-3zM1226 518h3v1h-3zM1425 518h2v1h-2zM1430 518h3v1h-3zM1436 518h3v1h-3zM196 519h2v1h-2zM1442 519h3v1h-3zM1448 519h1v1h-1zM132 520h1v1h-1zM198 520h1v1h-1zM382 520h3v1h-3zM484 520h2v1h-2zM1449 520h2v1h-2zM1454 520h1v1h-1zM130 521h2v1h-2zM486 521h1v1h-1zM1057 521h1v1h-1zM1455 521h2v1h-2zM202 522h2v1h-2zM376 522h3v1h-3zM490 522h1v1h-1zM1056 522h1v2h-1zM1460 522h2v1h-2zM126 523h1v1h-1zM204 523h1v1h-1zM208 523h1v1h-1zM371 523h2v1h-2zM491 523h2v1h-2zM1462 523h1v1h-1zM124 524h2v1h-2zM209 524h2v1h-2zM214 524h3v1h-3zM370 524h1v1h-1zM496 524h1v1h-1zM1466 524h1v1h-1zM220 525h3v1h-3zM366 525h1v1h-1zM497 525h2v1h-2zM1467 525h2v1h-2zM226 526h3v1h-3zM232 526h3v1h-3zM238 526h3v1h-3zM244 526h3v1h-3zM250 526h3v1h-3zM256 526h1v1h-1zM364 526h2v1h-2zM1472 526h1v1h-1zM119 527h2v1h-2zM257 527h2v1h-2zM262 527h3v1h-3zM268 527h3v1h-3zM274 527h3v1h-3zM359 527h2v1h-2zM502 527h3v1h-3zM1052 527h1v1h-1zM1473 527h2v1h-2zM118 528h1v1h-1zM280 528h3v1h-3zM353 528h2v1h-2zM358 528h1v1h-1zM1051 528h1v1h-1zM286 529h3v1h-3zM347 529h2v1h-2zM352 529h1v1h-1zM508 529h3v1h-3zM1050 529h1v1h-1zM1478 529h2v1h-2zM292 530h3v1h-3zM346 530h1v1h-1zM514 530h1v1h-1zM1480 530h1v1h-1zM113 531h2v1h-2zM298 531h1v1h-1zM340 531h3v1h-3zM515 531h2v1h-2zM112 532h1v1h-1zM299 532h2v1h-2zM304 532h3v1h-3zM310 532h3v1h-3zM316 532h3v1h-3zM322 532h3v1h-3zM328 532h3v1h-3zM334 532h3v1h-3zM520 532h3v1h-3zM1484 532h2v1h-2zM526 533h1v1h-1zM1047 533h1v1h-1zM1486 533h1v1h-1zM527 534h2v1h-2zM1046 534h1v2h-1zM108 535h1v1h-1zM532 535h3v1h-3zM1490 535h2v1h-2zM107 536h1v1h-1zM538 536h3v1h-3zM544 536h3v1h-3zM550 536h3v1h-3zM1492 536h1v1h-1zM106 537h1v1h-1zM556 537h3v1h-3zM562 538h3v1h-3zM568 538h1v1h-1zM1496 538h2v1h-2zM569 539h2v1h-2zM574 539h3v1h-3zM1042 539h1v2h-1zM1498 539h1v1h-1zM101 540h2v1h-2zM580 540h3v1h-3zM100 541h1v1h-1zM586 541h1v1h-1zM1041 541h1v1h-1zM1502 541h2v1h-2zM587 542h2v1h-2zM1504 542h1v1h-1zM592 543h3v1h-3zM96 544h1v1h-1zM1508 544h2v1h-2zM95 545h1v1h-1zM598 545h3v1h-3zM1038 545h1v1h-1zM1510 545h1v1h-1zM94 546h1v1h-1zM1037 546h1v1h-1zM604 547h3v1h-3zM1036 547h1v1h-1zM1514 547h2v1h-2zM610 548h1v1h-1zM1516 548h1v1h-1zM89 549h2v1h-2zM611 549h2v1h-2zM1520 549h1v1h-1zM1569 549h2v1h-2zM1574 549h3v1h-3zM1580 549h3v1h-3zM1586 549h3v1h-3zM1592 549h1v1h-1zM88 550h1v1h-1zM616 550h3v1h-3zM1521 550h2v1h-2zM1562 550h3v1h-3zM1568 550h1v1h-1zM1593 550h2v1h-2zM1598 550h1v1h-1zM622 551h3v1h-3zM1033 551h1v1h-1zM1526 551h1v1h-1zM1556 551h3v1h-3zM1599 551h2v1h-2zM628 552h3v1h-3zM1032 552h1v2h-1zM1527 552h2v1h-2zM1545 552h2v1h-2zM1550 552h3v1h-3zM1604 552h2v1h-2zM84 553h1v1h-1zM634 553h3v1h-3zM640 553h1v1h-1zM1532 553h3v1h-3zM1538 553h3v1h-3zM1544 553h1v1h-1zM1606 553h1v1h-1zM82 554h2v1h-2zM641 554h2v1h-2zM646 555h3v1h-3zM1610 555h2v1h-2zM78 556h1v1h-1zM1612 556h1v1h-1zM76 557h2v1h-2zM652 557h2v1h-2zM1029 557h1v1h-1zM1616 557h1v1h-1zM654 558h1v1h-1zM1028 558h1v1h-1zM1617 558h2v1h-2zM70 559h3v1h-3zM1027 559h1v1h-1zM658 560h2v1h-2zM1622 560h1v1h-1zM64 561h3v1h-3zM660 561h1v1h-1zM1623 561h2v1h-2zM17 562h2v1h-2zM22 562h3v1h-3zM28 562h3v1h-3zM34 562h3v1h-3zM40 562h3v1h-3zM46 562h3v1h-3zM52 562h3v1h-3zM58 562h3v1h-3zM4 563h3v1h-3zM10 563h3v1h-3zM16 563h1v1h-1zM1024 563h1v1h-1zM664 564h1v1h-1zM1023 564h1v1h-1zM1628 564h1v1h-1zM665 565h2v1h-2zM1022 565h1v1h-1zM1629 565h1v1h-1zM1630 566h1v1h-1zM670 569h1v1h-1zM1018 569h1v1h-1zM1634 569h1v1h-1zM671 570h2v1h-2zM1017 570h1v1h-1zM1635 570h1v1h-1zM1016 571h1v1h-1zM1636 571h1v1h-1zM676 574h1v1h-1zM1640 574h1v1h-1zM677 575h1v1h-1zM1012 575h1v1h-1zM1641 575h1v1h-1zM678 576h1v1h-1zM1011 576h1v1h-1zM1642 576h1v1h-1zM1010 577h1v1h-1zM682 580h1v1h-1zM1006 580h1v1h-1zM1646 580h1v1h-1zM683 581h1v1h-1zM1005 581h1v1h-1zM1647 581h1v1h-1zM684 582h1v1h-1zM1004 582h1v1h-1zM1648 582h1v1h-1zM687 586h1v1h-1zM1000 586h1v2h-1zM1651 586h1v1h-1zM688 587h1v1h-1zM1652 587h1v1h-1zM689 588h1v1h-1zM999 588h1v1h-1zM1653 588h1v1h-1zM692 592h1v1h-1zM995 592h1v1h-1zM1657 592h1v1h-1zM693 593h1v2h-1zM994 593h1v1h-1zM1658 593h1v1h-1zM993 594h1v1h-1zM1659 594h1v1h-1zM873 596h3v1h-3zM879 596h3v1h-3zM885 596h3v1h-3zM891 596h3v1h-3zM897 596h3v1h-3zM903 596h3v1h-3zM909 596h3v1h-3zM915 596h3v1h-3zM833 597h1v1h-1zM837 597h2v1h-2zM867 597h3v1h-3zM921 597h2v1h-2zM989 597h1v1h-1zM696 598h1v1h-1zM825 598h3v1h-3zM831 598h2v1h-2zM839 598h1v1h-1zM857 598h1v1h-1zM861 598h3v1h-3zM923 598h1v1h-1zM988 598h1v1h-1zM697 599h1v2h-1zM819 599h3v1h-3zM843 599h3v1h-3zM849 599h3v1h-3zM855 599h2v1h-2zM927 599h1v1h-1zM987 599h1v1h-1zM815 600h1v1h-1zM928 600h2v1h-2zM813 601h2v1h-2zM983 601h1v1h-1zM933 602h1v1h-1zM981 602h2v1h-2zM934 603h2v1h-2zM700 604h1v1h-1zM809 604h1v1h-1zM701 605h1v2h-1zM807 605h2v1h-2zM939 605h3v1h-3zM977 605h1v1h-1zM975 606h2v1h-2zM945 607h1v1h-1zM946 608h2v1h-2zM971 608h1v1h-1zM803 609h1v1h-1zM951 609h2v1h-2zM969 609h2v1h-2zM704 610h1v1h-1zM802 610h1v1h-1zM953 610h1v1h-1zM957 610h3v1h-3zM963 610h3v1h-3zM705 611h1v1h-1zM801 611h1v1h-1zM706 612h1v1h-1zM797 614h1v1h-1zM796 615h1v1h-1zM709 616h1v1h-1zM795 616h1v1h-1zM710 617h1v2h-1zM791 620h1v1h-1zM790 621h1v1h-1zM714 622h1v2h-1zM789 622h1v1h-1zM715 624h1v1h-1zM785 626h1v1h-1zM783 627h2v1h-2zM718 628h1v1h-1zM719 629h1v1h-1zM720 630h1v1h-1zM779 631h1v1h-1zM777 632h2v1h-2zM723 634h1v1h-1zM724 635h1v1h-1zM773 635h1v1h-1zM725 636h1v1h-1zM772 636h1v1h-1zM771 637h1v1h-1zM729 639h2v1h-2zM767 639h1v1h-1zM731 640h1v1h-1zM765 640h2v1h-2zM735 642h2v1h-2zM761 642h1v1h-1zM737 643h1v1h-1zM759 643h2v1h-2zM741 644h3v1h-3zM753 644h3v1h-3zM747 645h3v1h-3z" fill="#ff0000"/>
</g>
<g clip-path="url(#c3)">
<path d="M4 700.5H1679" stroke="#c0c0c0" stroke-width="1" stroke-dasharray="3 3" fill="none"/>
<path d="M4 742.5H1679" stroke="#c0c0c0" stroke-width="1" stroke-dasharray="3 3" fill="none"/>
<path d="M379 694h3v1h-3zM375 695h4v1h-4zM382 695h2v1h-2zM371 696h4v1h-4zM384 696h2v1h-2zM395 696h4v1h-4zM411 696h4v1h-4zM1065 696h6v1h-6zM356 697h5v1h-5zM367 697h4v1h-4zM386 697h2v1h-2zM391 697h4v1h-4zM399 697h4v1h-4zM407 697h4v1h-4zM415 697h4v1h-4zM1059 697h6v1h-6zM1071 697h4v1h-4zM354 698h2v1h-2zM361 698h6v1h-6zM388 698h3v1h-3zM403 698h4v1h-4zM419 698h2v1h-2zM1057 698h2v1h-2zM1075 698h2v1h-2zM353 699h1v1h-1zM421 699h2v1h-2zM1054 699h3v1h-3zM1077 699h1v1h-1zM351 700h2v1h-2zM423 700h1v1h-1zM452 700h1v1h-1zM1049 700h5v1h-5zM1078 700h1v1h-1zM1236 700h1v1h-1zM1292 700h1v1h-1zM349 701h2v1h-2zM424 701h1v1h-1zM450 701h2v1h-2zM453 701h2v1h-2zM1043 701h6v1h-6zM1079 701h2v1h-2zM1099 701h2v1h-2zM1234 701h2v1h-2zM1237 701h1v1h-1zM1290 701h2v1h-2zM1293 701h1v1h-1zM115 702h19v1h-19zM212 702h1v1h-1zM332 702h3v1h-3zM347 702h2v1h-2zM425 702h2v1h-2zM448 702h2v1h-2zM455 702h2v1h-2zM516 702h3v1h-3zM1039 702h4v1h-4zM1081 702h1v1h-1zM1095 702h4v1h-4zM1101 702h2v1h-2zM1212 702h3v1h-3zM1233 702h1v1h-1zM1238 702h1v1h-1zM1288 702h2v1h-2zM1294 702h1v1h-1zM111 703h4v1h-4zM134 703h2v1h-2zM210 703h2v1h-2zM213 703h2v1h-2zM330 703h2v1h-2zM335 703h4v1h-4zM343 703h4v1h-4zM427 703h1v1h-1zM446 703h2v1h-2zM457 703h1v1h-1zM515 703h1v1h-1zM519 703h4v1h-4zM1033 703h6v1h-6zM1082 703h1v1h-1zM1091 703h4v1h-4zM1103 703h2v1h-2zM1210 703h2v1h-2zM1215 703h4v1h-4zM1231 703h2v1h-2zM1239 703h1v1h-1zM1286 703h2v1h-2zM1295 703h1v1h-1zM107 704h4v1h-4zM136 704h2v1h-2zM209 704h1v1h-1zM215 704h1v1h-1zM328 704h2v1h-2zM339 704h4v1h-4zM428 704h18v1h-18zM458 704h2v1h-2zM514 704h1v2h-1zM523 704h6v1h-6zM1028 704h5v1h-5zM1083 704h1v1h-1zM1087 704h4v1h-4zM1105 704h1v1h-1zM1208 704h2v1h-2zM1219 704h6v1h-6zM1229 704h2v1h-2zM1240 704h1v1h-1zM1273 704h13v1h-13zM1296 704h1v2h-1zM103 705h4v1h-4zM138 705h2v1h-2zM207 705h2v1h-2zM216 705h1v1h-1zM292 705h1v1h-1zM326 705h2v1h-2zM460 705h1v2h-1zM529 705h6v1h-6zM1027 705h1v1h-1zM1084 705h3v1h-3zM1106 705h2v1h-2zM1206 705h2v1h-2zM1225 705h4v1h-4zM1241 705h1v1h-1zM1267 705h6v1h-6zM91 706h12v1h-12zM140 706h1v1h-1zM205 706h2v1h-2zM217 706h2v1h-2zM291 706h1v1h-1zM293 706h2v1h-2zM323 706h3v1h-3zM513 706h1v1h-1zM535 706h4v1h-4zM1026 706h1v1h-1zM1108 706h5v1h-5zM1203 706h3v1h-3zM1242 706h1v1h-1zM1263 706h4v1h-4zM1297 706h1v1h-1zM1339 706h2v1h-2zM87 707h4v1h-4zM141 707h1v1h-1zM204 707h1v1h-1zM219 707h1v1h-1zM290 707h1v1h-1zM295 707h2v1h-2zM319 707h4v1h-4zM461 707h1v2h-1zM512 707h1v1h-1zM539 707h3v1h-3zM995 707h3v1h-3zM1025 707h1v1h-1zM1113 707h5v1h-5zM1201 707h2v1h-2zM1243 707h1v1h-1zM1257 707h6v1h-6zM1298 707h1v1h-1zM1335 707h4v1h-4zM1341 707h2v1h-2zM1361 707h8v1h-8zM1409 707h24v1h-24zM1539 707h10v1h-10zM75 708h12v1h-12zM142 708h1v1h-1zM202 708h2v1h-2zM220 708h2v1h-2zM289 708h1v1h-1zM297 708h1v1h-1zM307 708h12v1h-12zM511 708h1v1h-1zM542 708h2v1h-2zM991 708h4v1h-4zM998 708h2v1h-2zM1024 708h1v1h-1zM1118 708h3v1h-3zM1198 708h3v1h-3zM1244 708h13v1h-13zM1299 708h1v1h-1zM1305 708h5v1h-5zM1332 708h3v1h-3zM1343 708h2v1h-2zM1355 708h6v1h-6zM1369 708h5v1h-5zM1403 708h6v1h-6zM1433 708h12v1h-12zM1537 708h2v1h-2zM1549 708h1v2h-1zM71 709h4v1h-4zM143 709h1v1h-1zM200 709h2v1h-2zM222 709h3v1h-3zM287 709h2v1h-2zM298 709h2v1h-2zM303 709h4v1h-4zM462 709h1v2h-1zM510 709h1v2h-1zM544 709h2v1h-2zM988 709h3v1h-3zM1000 709h2v1h-2zM1023 709h1v1h-1zM1121 709h2v1h-2zM1195 709h3v1h-3zM1300 709h5v1h-5zM1310 709h2v1h-2zM1331 709h1v1h-1zM1345 709h1v1h-1zM1353 709h2v1h-2zM1374 709h3v1h-3zM1401 709h2v1h-2zM1445 709h1v2h-1zM1534 709h3v1h-3zM52 710h19v1h-19zM144 710h1v1h-1zM198 710h2v1h-2zM225 710h2v1h-2zM233 710h6v1h-6zM286 710h1v1h-1zM300 710h3v1h-3zM499 710h4v1h-4zM546 710h2v1h-2zM628 710h1v1h-1zM986 710h2v1h-2zM1002 710h2v1h-2zM1022 710h1v1h-1zM1123 710h4v1h-4zM1193 710h2v1h-2zM1312 710h2v1h-2zM1330 710h1v1h-1zM1346 710h2v1h-2zM1350 710h3v1h-3zM1377 710h2v1h-2zM1398 710h3v1h-3zM1532 710h2v1h-2zM1550 710h1v2h-1zM51 711h1v1h-1zM145 711h1v1h-1zM196 711h2v1h-2zM227 711h6v1h-6zM239 711h4v1h-4zM285 711h1v1h-1zM463 711h1v2h-1zM495 711h4v1h-4zM503 711h4v1h-4zM509 711h1v1h-1zM548 711h1v1h-1zM626 711h2v1h-2zM629 711h1v2h-1zM984 711h2v1h-2zM1004 711h13v1h-13zM1021 711h1v1h-1zM1127 711h4v1h-4zM1190 711h3v1h-3zM1314 711h2v1h-2zM1329 711h1v1h-1zM1348 711h2v1h-2zM1379 711h3v1h-3zM1396 711h2v1h-2zM1446 711h1v1h-1zM1531 711h1v1h-1zM50 712h1v1h-1zM146 712h1v1h-1zM194 712h2v1h-2zM243 712h10v1h-10zM281 712h4v1h-4zM492 712h3v1h-3zM507 712h2v1h-2zM549 712h1v2h-1zM604 712h3v1h-3zM624 712h2v1h-2zM982 712h2v1h-2zM1017 712h4v1h-4zM1131 712h4v1h-4zM1188 712h2v1h-2zM1316 712h1v1h-1zM1328 712h1v2h-1zM1382 712h2v1h-2zM1394 712h2v1h-2zM1447 712h1v1h-1zM1530 712h1v1h-1zM1551 712h1v1h-1zM1564 712h1v1h-1zM49 713h1v1h-1zM147 713h1v1h-1zM192 713h2v1h-2zM253 713h2v1h-2zM275 713h6v1h-6zM464 713h1v2h-1zM491 713h1v1h-1zM602 713h2v1h-2zM607 713h4v1h-4zM622 713h2v1h-2zM630 713h1v2h-1zM980 713h2v1h-2zM1135 713h4v1h-4zM1186 713h2v1h-2zM1317 713h2v1h-2zM1384 713h2v1h-2zM1392 713h2v1h-2zM1448 713h1v2h-1zM1529 713h1v1h-1zM1552 713h1v2h-1zM1563 713h1v1h-1zM1565 713h1v1h-1zM48 714h1v1h-1zM148 714h2v1h-2zM171 714h14v1h-14zM190 714h2v1h-2zM255 714h1v1h-1zM273 714h2v1h-2zM489 714h2v1h-2zM550 714h1v2h-1zM600 714h2v1h-2zM611 714h11v1h-11zM859 714h3v1h-3zM978 714h2v1h-2zM1139 714h4v1h-4zM1184 714h2v1h-2zM1319 714h2v1h-2zM1327 714h1v1h-1zM1386 714h2v1h-2zM1390 714h2v1h-2zM1507 714h4v1h-4zM1527 714h2v1h-2zM1562 714h1v1h-1zM1566 714h1v1h-1zM47 715h1v1h-1zM150 715h2v1h-2zM169 715h2v1h-2zM185 715h5v1h-5zM256 715h1v1h-1zM270 715h3v1h-3zM465 715h1v2h-1zM488 715h1v1h-1zM598 715h2v1h-2zM631 715h1v2h-1zM855 715h4v1h-4zM862 715h2v1h-2zM976 715h2v1h-2zM1143 715h4v1h-4zM1182 715h2v1h-2zM1321 715h1v1h-1zM1326 715h1v1h-1zM1388 715h2v1h-2zM1449 715h1v1h-1zM1503 715h4v1h-4zM1511 715h4v1h-4zM1526 715h1v1h-1zM1553 715h1v1h-1zM1561 715h1v1h-1zM1567 715h1v1h-1zM46 716h1v1h-1zM152 716h2v1h-2zM166 716h3v1h-3zM257 716h2v1h-2zM267 716h3v1h-3zM487 716h1v1h-1zM551 716h1v2h-1zM596 716h2v1h-2zM852 716h3v1h-3zM864 716h2v1h-2zM974 716h2v1h-2zM1147 716h2v1h-2zM1164 716h18v1h-18zM1322 716h2v1h-2zM1325 716h1v1h-1zM1450 716h1v1h-1zM1500 716h3v1h-3zM1515 716h6v1h-6zM1525 716h1v1h-1zM1554 716h1v2h-1zM1560 716h1v1h-1zM1568 716h1v2h-1zM45 717h1v1h-1zM154 717h2v1h-2zM161 717h5v1h-5zM259 717h1v1h-1zM263 717h4v1h-4zM466 717h1v2h-1zM485 717h2v1h-2zM595 717h1v2h-1zM632 717h1v1h-1zM851 717h1v1h-1zM866 717h2v1h-2zM971 717h3v1h-3zM1149 717h1v1h-1zM1163 717h1v1h-1zM1324 717h1v1h-1zM1451 717h1v2h-1zM1498 717h2v1h-2zM1521 717h4v1h-4zM1559 717h1v1h-1zM1580 717h1v1h-1zM41 718h4v1h-4zM156 718h5v1h-5zM260 718h3v1h-3zM475 718h10v1h-10zM552 718h1v2h-1zM633 718h1v2h-1zM764 718h3v1h-3zM779 718h3v1h-3zM850 718h1v2h-1zM868 718h2v1h-2zM967 718h4v1h-4zM1150 718h1v1h-1zM1162 718h1v1h-1zM1496 718h2v1h-2zM1555 718h1v2h-1zM1558 718h1v1h-1zM1569 718h1v1h-1zM1578 718h2v1h-2zM1581 718h1v1h-1zM4 719h1v2h-1zM35 719h6v1h-6zM467 719h1v2h-1zM473 719h2v1h-2zM579 719h2v1h-2zM594 719h1v2h-1zM763 719h1v1h-1zM767 719h4v1h-4zM775 719h4v1h-4zM782 719h3v1h-3zM870 719h2v1h-2zM964 719h3v1h-3zM1151 719h1v1h-1zM1161 719h1v1h-1zM1452 719h1v1h-1zM1494 719h2v1h-2zM1557 719h1v1h-1zM1570 719h1v1h-1zM1576 719h2v1h-2zM1582 719h1v1h-1zM33 720h2v1h-2zM470 720h3v1h-3zM553 720h1v2h-1zM575 720h4v1h-4zM581 720h1v1h-1zM634 720h1v2h-1zM762 720h1v1h-1zM771 720h4v1h-4zM785 720h2v1h-2zM849 720h1v1h-1zM872 720h2v1h-2zM963 720h1v1h-1zM1152 720h1v2h-1zM1160 720h1v2h-1zM1453 720h2v1h-2zM1492 720h2v1h-2zM1556 720h1v1h-1zM1571 720h1v1h-1zM1574 720h2v1h-2zM1583 720h1v1h-1zM5 721h1v2h-1zM30 721h3v1h-3zM468 721h2v1h-2zM572 721h3v1h-3zM582 721h1v2h-1zM593 721h1v1h-1zM761 721h1v1h-1zM787 721h10v1h-10zM848 721h1v1h-1zM874 721h2v1h-2zM962 721h1v1h-1zM1455 721h2v1h-2zM1490 721h2v1h-2zM1572 721h2v1h-2zM1584 721h1v2h-1zM27 722h3v1h-3zM554 722h1v2h-1zM570 722h2v1h-2zM592 722h1v2h-1zM635 722h1v2h-1zM748 722h2v1h-2zM760 722h1v1h-1zM797 722h2v1h-2zM847 722h1v1h-1zM876 722h1v1h-1zM940 722h2v1h-2zM961 722h1v1h-1zM1153 722h1v1h-1zM1159 722h1v1h-1zM1457 722h1v1h-1zM1489 722h1v1h-1zM6 723h1v2h-1zM23 723h4v1h-4zM569 723h1v1h-1zM583 723h1v1h-1zM746 723h2v1h-2zM750 723h2v1h-2zM759 723h1v1h-1zM799 723h2v1h-2zM846 723h1v2h-1zM877 723h1v1h-1zM939 723h1v1h-1zM942 723h2v1h-2zM960 723h1v2h-1zM1154 723h1v1h-1zM1158 723h1v1h-1zM1458 723h2v1h-2zM1487 723h2v1h-2zM1585 723h1v1h-1zM20 724h3v1h-3zM555 724h1v2h-1zM567 724h2v1h-2zM584 724h1v1h-1zM591 724h1v1h-1zM636 724h1v1h-1zM744 724h2v1h-2zM752 724h2v1h-2zM758 724h1v1h-1zM801 724h1v1h-1zM878 724h1v1h-1zM938 724h1v1h-1zM944 724h2v1h-2zM1155 724h1v1h-1zM1157 724h1v1h-1zM1460 724h2v1h-2zM1485 724h2v1h-2zM1586 724h1v1h-1zM7 725h1v2h-1zM19 725h1v2h-1zM565 725h2v1h-2zM585 725h1v1h-1zM590 725h1v2h-1zM637 725h1v2h-1zM742 725h2v1h-2zM754 725h2v1h-2zM757 725h1v1h-1zM802 725h2v1h-2zM845 725h1v1h-1zM879 725h1v1h-1zM937 725h1v1h-1zM946 725h2v1h-2zM959 725h1v1h-1zM1156 725h1v1h-1zM1462 725h2v1h-2zM1483 725h2v1h-2zM1587 725h1v1h-1zM556 726h9v1h-9zM586 726h1v2h-1zM740 726h2v1h-2zM756 726h1v1h-1zM804 726h1v1h-1zM844 726h1v1h-1zM880 726h1v2h-1zM936 726h1v1h-1zM948 726h3v1h-3zM958 726h1v1h-1zM1464 726h2v1h-2zM1479 726h4v1h-4zM1588 726h1v1h-1zM8 727h1v2h-1zM18 727h1v1h-1zM589 727h1v2h-1zM638 727h1v1h-1zM739 727h1v2h-1zM805 727h1v1h-1zM843 727h1v2h-1zM935 727h1v1h-1zM951 727h4v1h-4zM957 727h1v1h-1zM1466 727h2v1h-2zM1473 727h6v1h-6zM1589 727h2v1h-2zM17 728h1v2h-1zM587 728h1v1h-1zM639 728h1v2h-1zM806 728h1v1h-1zM881 728h1v1h-1zM916 728h5v1h-5zM934 728h1v1h-1zM955 728h2v1h-2zM1468 728h5v1h-5zM1591 728h1v1h-1zM9 729h1v2h-1zM588 729h1v1h-1zM738 729h1v1h-1zM807 729h1v1h-1zM842 729h1v1h-1zM882 729h1v1h-1zM915 729h1v1h-1zM921 729h8v1h-8zM933 729h1v1h-1zM1592 729h1v1h-1zM16 730h1v1h-1zM640 730h1v1h-1zM737 730h1v2h-1zM808 730h1v1h-1zM841 730h1v2h-1zM883 730h1v1h-1zM913 730h2v1h-2zM929 730h4v1h-4zM1593 730h2v1h-2zM1603 730h3v1h-3zM1620 730h1v1h-1zM10 731h1v2h-1zM15 731h1v2h-1zM641 731h1v2h-1zM809 731h1v1h-1zM884 731h2v1h-2zM912 731h1v1h-1zM1595 731h1v1h-1zM1599 731h4v1h-4zM1606 731h2v1h-2zM1618 731h2v1h-2zM1621 731h2v1h-2zM736 732h1v1h-1zM810 732h1v1h-1zM840 732h1v1h-1zM886 732h2v1h-2zM911 732h1v1h-1zM1596 732h3v1h-3zM1608 732h2v1h-2zM1616 732h2v1h-2zM1623 732h1v1h-1zM11 733h1v2h-1zM14 733h1v1h-1zM642 733h1v1h-1zM735 733h1v2h-1zM811 733h1v1h-1zM839 733h1v2h-1zM888 733h2v1h-2zM909 733h2v1h-2zM1610 733h2v1h-2zM1614 733h2v1h-2zM1624 733h1v1h-1zM13 734h1v2h-1zM643 734h1v2h-1zM812 734h2v1h-2zM890 734h2v1h-2zM907 734h2v1h-2zM1612 734h2v1h-2zM1625 734h2v1h-2zM12 735h1v2h-1zM724 735h2v1h-2zM734 735h1v1h-1zM814 735h2v1h-2zM827 735h3v1h-3zM838 735h1v1h-1zM892 735h5v1h-5zM903 735h4v1h-4zM1627 735h1v1h-1zM1643 735h2v1h-2zM644 736h9v1h-9zM723 736h1v1h-1zM726 736h3v1h-3zM733 736h1v2h-1zM816 736h2v1h-2zM825 736h2v1h-2zM830 736h3v1h-3zM837 736h1v2h-1zM897 736h6v1h-6zM1628 736h3v1h-3zM1641 736h2v1h-2zM1645 736h1v2h-1zM653 737h1v2h-1zM722 737h1v1h-1zM729 737h2v1h-2zM818 737h2v1h-2zM822 737h3v1h-3zM833 737h2v1h-2zM1631 737h4v1h-4zM1638 737h3v1h-3zM721 738h1v1h-1zM731 738h2v1h-2zM820 738h2v1h-2zM835 738h2v1h-2zM1635 738h3v1h-3zM1646 738h1v1h-1zM654 739h1v1h-1zM720 739h1v1h-1zM1647 739h1v1h-1zM655 740h1v2h-1zM719 740h1v1h-1zM1648 740h1v2h-1zM718 741h1v1h-1zM656 742h1v1h-1zM717 742h1v1h-1zM1649 742h1v1h-1zM657 743h1v2h-1zM668 743h3v1h-3zM715 743h2v1h-2zM1650 743h1v1h-1zM666 744h2v1h-2zM671 744h4v1h-4zM713 744h2v1h-2zM1651 744h1v2h-1zM658 745h1v1h-1zM665 745h1v1h-1zM675 745h3v1h-3zM710 745h3v1h-3zM659 746h1v2h-1zM663 746h2v1h-2zM678 746h3v1h-3zM699 746h11v1h-11zM1652 746h9v1h-9zM661 747h2v1h-2zM681 747h2v1h-2zM695 747h4v1h-4zM660 748h1v1h-1zM683 748h12v1h-12z" fill="#1e90ff"/>
</g>
<rect x="1680" y="52" width="2" height="1" fill="#000"/>
<text x="1685.2" y="55.9" font-size="10" fill="#000" textLength="37.5" lengthAdjust="spacingAndGlyphs" stroke="#000" stroke-width="0.15" shape-rendering="auto" text-rendering="geometricPrecision" >3399.900</text>
<rect x="1680" y="85" width="2" height="1" fill="#000"/>
<text x="1685.2" y="88.95" font-size="10" fill="#000" textLength="37.5" lengthAdjust="spacingAndGlyphs" stroke="#000" stroke-width="0.15" shape-rendering="auto" text-rendering="geometricPrecision" >3380.860</text>
<rect x="1680" y="118" width="2" height="1" fill="#000"/>
<text x="1685.2" y="122" font-size="10" fill="#000" textLength="37.5" lengthAdjust="spacingAndGlyphs" stroke="#000" stroke-width="0.15" shape-rendering="auto" text-rendering="geometricPrecision" >3362.380</text>
<rect x="1680" y="151" width="2" height="1" fill="#000"/>
<text x="1685.2" y="155.05" font-size="10" fill="#000" textLength="37.5" lengthAdjust="spacingAndGlyphs" stroke="#000" stroke-width="0.15" shape-rendering="auto" text-rendering="geometricPrecision" >3343.900</text>
<rect x="1680" y="184" width="2" height="1" fill="#000"/>
<rect x="1680" y="217" width="2" height="1" fill="#000"/>
<text x="1685.2" y="221.15" font-size="10" fill="#000" textLength="37.5" lengthAdjust="spacingAndGlyphs" stroke="#000" stroke-width="0.15" shape-rendering="auto" text-rendering="geometricPrecision" >3306.940</text>
<rect x="1680" y="250" width="2" height="1" fill="#000"/>
<text x="1685.2" y="254.2" font-size="10" fill="#000" textLength="37.5" lengthAdjust="spacingAndGlyphs" stroke="#000" stroke-width="0.15" shape-rendering="auto" text-rendering="geometricPrecision" >3288.460</text>
<rect x="1680" y="283" width="2" height="1" fill="#000"/>
<text x="1685.2" y="287.25" font-size="10" fill="#000" textLength="37.5" lengthAdjust="spacingAndGlyphs" stroke="#000" stroke-width="0.15" shape-rendering="auto" text-rendering="geometricPrecision" >3269.420</text>
<rect x="1680" y="316" width="2" height="1" fill="#000"/>
<text x="1685.2" y="320.3" font-size="10" fill="#000" textLength="37.5" lengthAdjust="spacingAndGlyphs" stroke="#000" stroke-width="0.15" shape-rendering="auto" text-rendering="geometricPrecision" >3250.940</text>
<rect x="1680" y="349" width="2" height="1" fill="#000"/>
<text x="1685.2" y="353.35" font-size="10" fill="#000" textLength="37.5" lengthAdjust="spacingAndGlyphs" stroke="#000" stroke-width="0.15" shape-rendering="auto" text-rendering="geometricPrecision" >3232.460</text>
<rect x="1680" y="382" width="2" height="1" fill="#000"/>
<text x="1685.2" y="386.4" font-size="10" fill="#000" textLength="37.5" lengthAdjust="spacingAndGlyphs" stroke="#000" stroke-width="0.15" shape-rendering="auto" text-rendering="geometricPrecision" >3213.980</text>
<rect x="1680" y="415" width="2" height="1" fill="#000"/>
<text x="1685.2" y="419.45" font-size="10" fill="#000" textLength="37.5" lengthAdjust="spacingAndGlyphs" stroke="#000" stroke-width="0.15" shape-rendering="auto" text-rendering="geometricPrecision" >3195.500</text>
<rect x="1680" y="448" width="2" height="1" fill="#000"/>
<text x="1685.2" y="452.5" font-size="10" fill="#000" textLength="37.5" lengthAdjust="spacingAndGlyphs" stroke="#000" stroke-width="0.15" shape-rendering="auto" text-rendering="geometricPrecision" >3177.020</text>
<rect x="1681" y="228" width="46" height="11" fill="#000000"/>
<text x="1685.2" y="237" font-size="10" fill="#fff" textLength="37.6" lengthAdjust="spacingAndGlyphs" stroke="#fff" stroke-width="0.15" shape-rendering="auto" text-rendering="geometricPrecision" >3297.750</text>
<rect x="1681" y="90" width="46" height="11" fill="#ff0000"/>
<text x="1685.2" y="99" font-size="10" fill="#fff" textLength="37.6" lengthAdjust="spacingAndGlyphs" stroke="#fff" stroke-width="0.15" shape-rendering="auto" text-rendering="geometricPrecision" >3375.000</text>
<rect x="1681" y="179" width="46" height="11" fill="#00ff7f"/>
<text x="1685.2" y="188" font-size="10" fill="#fff" textLength="37.6" lengthAdjust="spacingAndGlyphs" stroke="#fff" stroke-width="0.15" shape-rendering="auto" text-rendering="geometricPrecision" >3325.000</text>
<rect x="1681" y="250" width="46" height="11" fill="#4169e1"/>
<text x="1685.2" y="259" font-size="10" fill="#fff" textLength="37.6" lengthAdjust="spacingAndGlyphs" stroke="#fff" stroke-width="0.15" shape-rendering="auto" text-rendering="geometricPrecision" >3285.000</text>
<rect x="1681" y="330" width="46" height="11" fill="#4169e1"/>
<text x="1685.2" y="339" font-size="10" fill="#fff" textLength="37.6" lengthAdjust="spacingAndGlyphs" stroke="#fff" stroke-width="0.15" shape-rendering="auto" text-rendering="geometricPrecision" >3240.000</text>
<rect x="1680" y="455" width="1" height="1" fill="#000"/>
<text x="1683.2" y="464" font-size="10" fill="#000" textLength="32.4" lengthAdjust="spacingAndGlyphs" stroke="#000" stroke-width="0.15" shape-rendering="auto" text-rendering="geometricPrecision" >23.9013</text>
<rect x="1680" y="567" width="2" height="1" fill="#000"/>
<text x="1685" y="570.2" font-size="10" fill="#000" textLength="18" lengthAdjust="spacingAndGlyphs" stroke="#000" stroke-width="0.15" shape-rendering="auto" text-rendering="geometricPrecision" >0.00</text>
<text x="1683" y="663.7" font-size="10" fill="#000" textLength="35.8" lengthAdjust="spacingAndGlyphs" stroke="#000" stroke-width="0.15" shape-rendering="auto" text-rendering="geometricPrecision" >-21.4936</text>
<rect x="1680" y="664" width="1" height="1" fill="#000"/>
<text x="1683.3" y="679.1" font-size="10" fill="#000" textLength="15" lengthAdjust="spacingAndGlyphs" stroke="#000" stroke-width="0.15" shape-rendering="auto" text-rendering="geometricPrecision" >100</text>
<text x="1682" y="704.1" font-size="10" fill="#000" textLength="10" lengthAdjust="spacingAndGlyphs" stroke="#000" stroke-width="0.15" shape-rendering="auto" text-rendering="geometricPrecision" >70</text>
<text x="1682" y="746.6" font-size="10" fill="#000" textLength="10" lengthAdjust="spacingAndGlyphs" stroke="#000" stroke-width="0.15" shape-rendering="auto" text-rendering="geometricPrecision" >30</text>
<text x="1683.2" y="770.4" font-size="10" fill="#000" textLength="5.08" lengthAdjust="spacingAndGlyphs" stroke="#000" stroke-width="0.15" shape-rendering="auto" text-rendering="geometricPrecision" >0</text>
<path d="M7 43h7l-3.5 4z" fill="#000" shape-rendering="auto"/>
<text x="19" y="48" font-size="10" fill="#000" textLength="212.2" lengthAdjust="spacingAndGlyphs" stroke="#000" stroke-width="0.15" shape-rendering="auto" text-rendering="geometricPrecision" xml:space="preserve">SP500-,H4  3298.750 3299.250 3297.500 3297.750</text>
<text x="8.5" y="465.6" font-size="10" fill="#000" textLength="138.4" lengthAdjust="spacingAndGlyphs" stroke="#000" stroke-width="0.15" shape-rendering="auto" text-rendering="geometricPrecision" >MACD(12,26,9) -15.6636 -6.4308</text>
<text x="8.3" y="681.3" font-size="10" fill="#000" textLength="67.5" lengthAdjust="spacingAndGlyphs" stroke="#000" stroke-width="0.15" shape-rendering="auto" text-rendering="geometricPrecision" >RSI(14) 25.5149</text>
<rect x="4" y="774" width="1" height="3" fill="#000"/>
<text x="3.7" y="786.2" font-size="10" fill="#000" textLength="45.21" lengthAdjust="spacingAndGlyphs" stroke="#000" stroke-width="0.15" shape-rendering="auto" text-rendering="geometricPrecision" >7 Jan 2020</text>
<rect x="68" y="774" width="1" height="3" fill="#000"/>
<text x="67.7" y="786.2" font-size="10" fill="#000" textLength="47.74" lengthAdjust="spacingAndGlyphs" stroke="#000" stroke-width="0.15" shape-rendering="auto" text-rendering="geometricPrecision" >9 Jan 00:00</text>
<rect x="132" y="774" width="1" height="3" fill="#000"/>
<text x="131.7" y="786.2" font-size="10" fill="#000" textLength="52.83" lengthAdjust="spacingAndGlyphs" stroke="#000" stroke-width="0.15" shape-rendering="auto" text-rendering="geometricPrecision" >10 Jan 08:00</text>
<rect x="196" y="774" width="1" height="3" fill="#000"/>
<text x="195.7" y="786.2" font-size="10" fill="#000" textLength="52.83" lengthAdjust="spacingAndGlyphs" stroke="#000" stroke-width="0.15" shape-rendering="auto" text-rendering="geometricPrecision" >13 Jan 12:00</text>
<rect x="260" y="774" width="1" height="3" fill="#000"/>
<text x="259.7" y="786.2" font-size="10" fill="#000" textLength="52.83" lengthAdjust="spacingAndGlyphs" stroke="#000" stroke-width="0.15" shape-rendering="auto" text-rendering="geometricPrecision" >14 Jan 20:00</text>
<rect x="324" y="774" width="1" height="3" fill="#000"/>
<text x="323.7" y="786.2" font-size="10" fill="#000" textLength="52.83" lengthAdjust="spacingAndGlyphs" stroke="#000" stroke-width="0.15" shape-rendering="auto" text-rendering="geometricPrecision" >16 Jan 04:00</text>
<rect x="388" y="774" width="1" height="3" fill="#000"/>
<text x="387.7" y="786.2" font-size="10" fill="#000" textLength="52.83" lengthAdjust="spacingAndGlyphs" stroke="#000" stroke-width="0.15" shape-rendering="auto" text-rendering="geometricPrecision" >17 Jan 12:00</text>
<rect x="452" y="774" width="1" height="3" fill="#000"/>
<text x="451.7" y="786.2" font-size="10" fill="#000" textLength="52.83" lengthAdjust="spacingAndGlyphs" stroke="#000" stroke-width="0.15" shape-rendering="auto" text-rendering="geometricPrecision" >20 Jan 16:00</text>
<rect x="516" y="774" width="1" height="3" fill="#000"/>
<text x="515.7" y="786.2" font-size="10" fill="#000" textLength="52.83" lengthAdjust="spacingAndGlyphs" stroke="#000" stroke-width="0.15" shape-rendering="auto" text-rendering="geometricPrecision" >22 Jan 00:00</text>
<rect x="580" y="774" width="1" height="3" fill="#000"/>
<text x="579.7" y="786.2" font-size="10" fill="#000" textLength="52.83" lengthAdjust="spacingAndGlyphs" stroke="#000" stroke-width="0.15" shape-rendering="auto" text-rendering="geometricPrecision" >23 Jan 08:00</text>
<rect x="644" y="774" width="1" height="3" fill="#000"/>
<text x="643.7" y="786.2" font-size="10" fill="#000" textLength="52.83" lengthAdjust="spacingAndGlyphs" stroke="#000" stroke-width="0.15" shape-rendering="auto" text-rendering="geometricPrecision" >24 Jan 16:00</text>
<rect x="708" y="774" width="1" height="3" fill="#000"/>
<text x="707.7" y="786.2" font-size="10" fill="#000" textLength="52.83" lengthAdjust="spacingAndGlyphs" stroke="#000" stroke-width="0.15" shape-rendering="auto" text-rendering="geometricPrecision" >27 Jan 20:00</text>
<rect x="772" y="774" width="1" height="3" fill="#000"/>
<text x="771.7" y="786.2" font-size="10" fill="#000" textLength="52.83" lengthAdjust="spacingAndGlyphs" stroke="#000" stroke-width="0.15" shape-rendering="auto" text-rendering="geometricPrecision" >29 Jan 04:00</text>
<rect x="836" y="774" width="1" height="3" fill="#000"/>
<text x="835.7" y="786.2" font-size="10" fill="#000" textLength="52.83" lengthAdjust="spacingAndGlyphs" stroke="#000" stroke-width="0.15" shape-rendering="auto" text-rendering="geometricPrecision" >30 Jan 12:00</text>
<rect x="900" y="774" width="1" height="3" fill="#000"/>
<text x="899.7" y="786.2" font-size="10" fill="#000" textLength="52.83" lengthAdjust="spacingAndGlyphs" stroke="#000" stroke-width="0.15" shape-rendering="auto" text-rendering="geometricPrecision" >31 Jan 20:00</text>
<rect x="964" y="774" width="1" height="3" fill="#000"/>
<text x="963.7" y="786.2" font-size="10" fill="#000" textLength="48.76" lengthAdjust="spacingAndGlyphs" stroke="#000" stroke-width="0.15" shape-rendering="auto" text-rendering="geometricPrecision" >4 Feb 00:00</text>
<rect x="1028" y="774" width="1" height="3" fill="#000"/>
<text x="1027.7" y="786.2" font-size="10" fill="#000" textLength="48.76" lengthAdjust="spacingAndGlyphs" stroke="#000" stroke-width="0.15" shape-rendering="auto" text-rendering="geometricPrecision" >5 Feb 08:00</text>
<rect x="1092" y="774" width="1" height="3" fill="#000"/>
<text x="1091.7" y="786.2" font-size="10" fill="#000" textLength="48.76" lengthAdjust="spacingAndGlyphs" stroke="#000" stroke-width="0.15" shape-rendering="auto" text-rendering="geometricPrecision" >6 Feb 16:00</text>
<rect x="1156" y="774" width="1" height="3" fill="#000"/>
<text x="1155.7" y="786.2" font-size="10" fill="#000" textLength="48.76" lengthAdjust="spacingAndGlyphs" stroke="#000" stroke-width="0.15" shape-rendering="auto" text-rendering="geometricPrecision" >9 Feb 23:00</text>
<rect x="1220" y="774" width="1" height="3" fill="#000"/>
<text x="1219.7" y="786.2" font-size="10" fill="#000" textLength="53.84" lengthAdjust="spacingAndGlyphs" stroke="#000" stroke-width="0.15" shape-rendering="auto" text-rendering="geometricPrecision" >11 Feb 04:00</text>
<rect x="1284" y="774" width="1" height="3" fill="#000"/>
<text x="1283.7" y="786.2" font-size="10" fill="#000" textLength="53.84" lengthAdjust="spacingAndGlyphs" stroke="#000" stroke-width="0.15" shape-rendering="auto" text-rendering="geometricPrecision" >12 Feb 12:00</text>
<rect x="1348" y="774" width="1" height="3" fill="#000"/>
<text x="1347.7" y="786.2" font-size="10" fill="#000" textLength="53.84" lengthAdjust="spacingAndGlyphs" stroke="#000" stroke-width="0.15" shape-rendering="auto" text-rendering="geometricPrecision" >13 Feb 20:00</text>
<rect x="1412" y="774" width="1" height="3" fill="#000"/>
<text x="1411.7" y="786.2" font-size="10" fill="#000" textLength="53.84" lengthAdjust="spacingAndGlyphs" stroke="#000" stroke-width="0.15" shape-rendering="auto" text-rendering="geometricPrecision" >17 Feb 00:00</text>
<rect x="1476" y="774" width="1" height="3" fill="#000"/>
<text x="1475.7" y="786.2" font-size="10" fill="#000" textLength="53.84" lengthAdjust="spacingAndGlyphs" stroke="#000" stroke-width="0.15" shape-rendering="auto" text-rendering="geometricPrecision" >18 Feb 08:00</text>
<rect x="1540" y="774" width="1" height="3" fill="#000"/>
<text x="1539.7" y="786.2" font-size="10" fill="#000" textLength="53.84" lengthAdjust="spacingAndGlyphs" stroke="#000" stroke-width="0.15" shape-rendering="auto" text-rendering="geometricPrecision" >19 Feb 16:00</text>
<rect x="1604" y="774" width="1" height="3" fill="#000"/>
<text x="1603.7" y="786.2" font-size="10" fill="#000" textLength="53.84" lengthAdjust="spacingAndGlyphs" stroke="#000" stroke-width="0.15" shape-rendering="auto" text-rendering="geometricPrecision" >21 Feb 00:00</text>
</svg></body></html>
